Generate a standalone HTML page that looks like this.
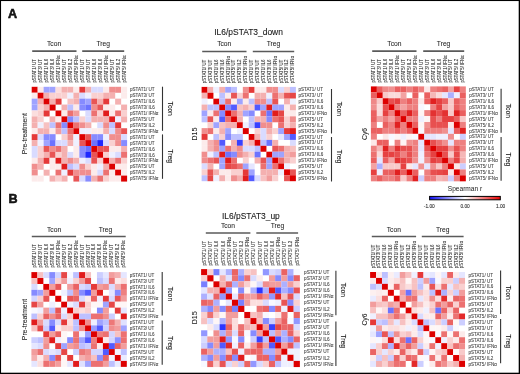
<!DOCTYPE html>
<html><head><meta charset="utf-8"><style>
html,body{margin:0;padding:0;background:#fff;}
body{width:520px;height:374px;overflow:hidden;}
svg{display:block;will-change:transform;filter:blur(0.30px);}
</style></head><body>
<svg width="520" height="374" viewBox="0 0 520 374" font-family='"Liberation Sans", sans-serif' fill="#1a1a1a">
<rect x="0" y="0" width="520" height="374" fill="#fff"/>
<text x="8" y="17.5" font-size="12.6" font-weight="bold" stroke="#000" stroke-width="0.5">A</text>
<text x="8.6" y="202.8" font-size="12.6" font-weight="bold" stroke="#000" stroke-width="0.5">B</text>
<text x="248.6" y="35.3" font-size="8.45" text-anchor="middle" stroke="#1a1a1a" stroke-width="0.1">IL6/pSTAT3_down</text>
<text x="250.9" y="218.5" font-size="8.45" text-anchor="middle" stroke="#1a1a1a" stroke-width="0.1">IL6/pSTAT3_up</text>
<rect x="31.70" y="86.80" width="6.01" height="5.97" fill="#dd0000"/>
<rect x="37.66" y="86.80" width="6.01" height="5.97" fill="#fcebeb"/>
<rect x="43.62" y="86.80" width="6.01" height="5.97" fill="#9fa3ff"/>
<rect x="49.58" y="86.80" width="6.01" height="5.97" fill="#9fa3ff"/>
<rect x="55.54" y="86.80" width="6.01" height="5.97" fill="#fbdede"/>
<rect x="61.50" y="86.80" width="6.01" height="5.97" fill="#f4b0b0"/>
<rect x="67.46" y="86.80" width="6.01" height="5.97" fill="#f4b0b0"/>
<rect x="73.42" y="86.80" width="6.01" height="5.97" fill="#fcebeb"/>
<rect x="79.38" y="86.80" width="6.01" height="5.97" fill="#e53939"/>
<rect x="85.34" y="86.80" width="6.01" height="5.97" fill="#f4b0b0"/>
<rect x="91.30" y="86.80" width="6.01" height="5.97" fill="#d9dbff"/>
<rect x="97.26" y="86.80" width="6.01" height="5.97" fill="#d9dbff"/>
<rect x="103.22" y="86.80" width="6.01" height="5.97" fill="#fcebeb"/>
<rect x="109.18" y="86.80" width="6.01" height="5.97" fill="#f08e8e"/>
<rect x="115.14" y="86.80" width="6.01" height="5.97" fill="#f08e8e"/>
<rect x="121.10" y="86.80" width="6.01" height="5.97" fill="#fcebeb"/>
<rect x="31.70" y="92.72" width="6.01" height="5.97" fill="#fcebeb"/>
<rect x="37.66" y="92.72" width="6.01" height="5.97" fill="#dd0000"/>
<rect x="43.62" y="92.72" width="6.01" height="5.97" fill="#f4b0b0"/>
<rect x="49.58" y="92.72" width="6.01" height="5.97" fill="#f9d0d0"/>
<rect x="55.54" y="92.72" width="6.01" height="5.97" fill="#f9d0d0"/>
<rect x="61.50" y="92.72" width="6.01" height="5.97" fill="#f9d0d0"/>
<rect x="67.46" y="92.72" width="6.01" height="5.97" fill="#eff0ff"/>
<rect x="73.42" y="92.72" width="6.01" height="5.97" fill="#f4b0b0"/>
<rect x="79.38" y="92.72" width="6.01" height="5.97" fill="#d9dbff"/>
<rect x="85.34" y="92.72" width="6.01" height="5.97" fill="#eff0ff"/>
<rect x="91.30" y="92.72" width="6.01" height="5.97" fill="#f9d0d0"/>
<rect x="97.26" y="92.72" width="6.01" height="5.97" fill="#f9d0d0"/>
<rect x="103.22" y="92.72" width="6.01" height="5.97" fill="#f4b0b0"/>
<rect x="109.18" y="92.72" width="6.01" height="5.97" fill="#f4b0b0"/>
<rect x="121.10" y="92.72" width="6.01" height="5.97" fill="#fcebeb"/>
<rect x="31.70" y="98.64" width="6.01" height="5.97" fill="#9fa3ff"/>
<rect x="37.66" y="98.64" width="6.01" height="5.97" fill="#f4b0b0"/>
<rect x="43.62" y="98.64" width="6.01" height="5.97" fill="#dd0000"/>
<rect x="49.58" y="98.64" width="6.01" height="5.97" fill="#f4b0b0"/>
<rect x="55.54" y="98.64" width="6.01" height="5.97" fill="#e53939"/>
<rect x="67.46" y="98.64" width="6.01" height="5.97" fill="#f7c1c1"/>
<rect x="73.42" y="98.64" width="6.01" height="5.97" fill="#f4b0b0"/>
<rect x="79.38" y="98.64" width="6.01" height="5.97" fill="#868bff"/>
<rect x="85.34" y="98.64" width="6.01" height="5.97" fill="#9fa3ff"/>
<rect x="91.30" y="98.64" width="6.01" height="5.97" fill="#e85555"/>
<rect x="97.26" y="98.64" width="6.01" height="5.97" fill="#f4b0b0"/>
<rect x="103.22" y="98.64" width="6.01" height="5.97" fill="#e53939"/>
<rect x="115.14" y="98.64" width="6.01" height="5.97" fill="#f4b0b0"/>
<rect x="31.70" y="104.56" width="6.01" height="5.97" fill="#9fa3ff"/>
<rect x="37.66" y="104.56" width="6.01" height="5.97" fill="#f9d0d0"/>
<rect x="43.62" y="104.56" width="6.01" height="5.97" fill="#f4b0b0"/>
<rect x="49.58" y="104.56" width="6.01" height="5.97" fill="#dd0000"/>
<rect x="61.50" y="104.56" width="6.01" height="5.97" fill="#f4b0b0"/>
<rect x="67.46" y="104.56" width="6.01" height="5.97" fill="#bdc0ff"/>
<rect x="73.42" y="104.56" width="6.01" height="5.97" fill="#fcebeb"/>
<rect x="79.38" y="104.56" width="6.01" height="5.97" fill="#868bff"/>
<rect x="85.34" y="104.56" width="6.01" height="5.97" fill="#6c73ff"/>
<rect x="91.30" y="104.56" width="6.01" height="5.97" fill="#f08e8e"/>
<rect x="97.26" y="104.56" width="6.01" height="5.97" fill="#e85555"/>
<rect x="103.22" y="104.56" width="6.01" height="5.97" fill="#fcebeb"/>
<rect x="109.18" y="104.56" width="6.01" height="5.97" fill="#fcebeb"/>
<rect x="121.10" y="104.56" width="6.01" height="5.97" fill="#f4b0b0"/>
<rect x="31.70" y="110.48" width="6.01" height="5.97" fill="#fbdede"/>
<rect x="37.66" y="110.48" width="6.01" height="5.97" fill="#f9d0d0"/>
<rect x="43.62" y="110.48" width="6.01" height="5.97" fill="#e53939"/>
<rect x="55.54" y="110.48" width="6.01" height="5.97" fill="#dd0000"/>
<rect x="61.50" y="110.48" width="6.01" height="5.97" fill="#fcebeb"/>
<rect x="67.46" y="110.48" width="6.01" height="5.97" fill="#ec7171"/>
<rect x="73.42" y="110.48" width="6.01" height="5.97" fill="#f29d9d"/>
<rect x="85.34" y="110.48" width="6.01" height="5.97" fill="#d9dbff"/>
<rect x="91.30" y="110.48" width="6.01" height="5.97" fill="#ec7171"/>
<rect x="97.26" y="110.48" width="6.01" height="5.97" fill="#f9d0d0"/>
<rect x="103.22" y="110.48" width="6.01" height="5.97" fill="#e11c1c"/>
<rect x="109.18" y="110.48" width="6.01" height="5.97" fill="#fcebeb"/>
<rect x="115.14" y="110.48" width="6.01" height="5.97" fill="#ec7171"/>
<rect x="121.10" y="110.48" width="6.01" height="5.97" fill="#f9d0d0"/>
<rect x="31.70" y="116.40" width="6.01" height="5.97" fill="#f4b0b0"/>
<rect x="37.66" y="116.40" width="6.01" height="5.97" fill="#f9d0d0"/>
<rect x="49.58" y="116.40" width="6.01" height="5.97" fill="#f4b0b0"/>
<rect x="55.54" y="116.40" width="6.01" height="5.97" fill="#fcebeb"/>
<rect x="61.50" y="116.40" width="6.01" height="5.97" fill="#dd0000"/>
<rect x="67.46" y="116.40" width="6.01" height="5.97" fill="#868bff"/>
<rect x="73.42" y="116.40" width="6.01" height="5.97" fill="#bdc0ff"/>
<rect x="79.38" y="116.40" width="6.01" height="5.97" fill="#f9d0d0"/>
<rect x="85.34" y="116.40" width="6.01" height="5.97" fill="#d9dbff"/>
<rect x="91.30" y="116.40" width="6.01" height="5.97" fill="#f4b0b0"/>
<rect x="97.26" y="116.40" width="6.01" height="5.97" fill="#f4b0b0"/>
<rect x="103.22" y="116.40" width="6.01" height="5.97" fill="#f4b0b0"/>
<rect x="109.18" y="116.40" width="6.01" height="5.97" fill="#e11c1c"/>
<rect x="115.14" y="116.40" width="6.01" height="5.97" fill="#eff0ff"/>
<rect x="121.10" y="116.40" width="6.01" height="5.97" fill="#f4b0b0"/>
<rect x="31.70" y="122.32" width="6.01" height="5.97" fill="#f4b0b0"/>
<rect x="37.66" y="122.32" width="6.01" height="5.97" fill="#eff0ff"/>
<rect x="43.62" y="122.32" width="6.01" height="5.97" fill="#f7c1c1"/>
<rect x="49.58" y="122.32" width="6.01" height="5.97" fill="#bdc0ff"/>
<rect x="55.54" y="122.32" width="6.01" height="5.97" fill="#ec7171"/>
<rect x="61.50" y="122.32" width="6.01" height="5.97" fill="#868bff"/>
<rect x="67.46" y="122.32" width="6.01" height="5.97" fill="#dd0000"/>
<rect x="73.42" y="122.32" width="6.01" height="5.97" fill="#ec7171"/>
<rect x="79.38" y="122.32" width="6.01" height="5.97" fill="#f08e8e"/>
<rect x="85.34" y="122.32" width="6.01" height="5.97" fill="#f4b0b0"/>
<rect x="97.26" y="122.32" width="6.01" height="5.97" fill="#d9dbff"/>
<rect x="103.22" y="122.32" width="6.01" height="5.97" fill="#f08e8e"/>
<rect x="109.18" y="122.32" width="6.01" height="5.97" fill="#bdc0ff"/>
<rect x="115.14" y="122.32" width="6.01" height="5.97" fill="#e53939"/>
<rect x="31.70" y="128.24" width="6.01" height="5.97" fill="#fcebeb"/>
<rect x="37.66" y="128.24" width="6.01" height="5.97" fill="#f4b0b0"/>
<rect x="43.62" y="128.24" width="6.01" height="5.97" fill="#f4b0b0"/>
<rect x="49.58" y="128.24" width="6.01" height="5.97" fill="#fcebeb"/>
<rect x="55.54" y="128.24" width="6.01" height="5.97" fill="#f29d9d"/>
<rect x="61.50" y="128.24" width="6.01" height="5.97" fill="#bdc0ff"/>
<rect x="67.46" y="128.24" width="6.01" height="5.97" fill="#ec7171"/>
<rect x="73.42" y="128.24" width="6.01" height="5.97" fill="#dd0000"/>
<rect x="79.38" y="128.24" width="6.01" height="5.97" fill="#eff0ff"/>
<rect x="85.34" y="128.24" width="6.01" height="5.97" fill="#eff0ff"/>
<rect x="91.30" y="128.24" width="6.01" height="5.97" fill="#fcebeb"/>
<rect x="97.26" y="128.24" width="6.01" height="5.97" fill="#fcebeb"/>
<rect x="103.22" y="128.24" width="6.01" height="5.97" fill="#f4b0b0"/>
<rect x="109.18" y="128.24" width="6.01" height="5.97" fill="#d9dbff"/>
<rect x="115.14" y="128.24" width="6.01" height="5.97" fill="#f08e8e"/>
<rect x="121.10" y="128.24" width="6.01" height="5.97" fill="#e85555"/>
<rect x="31.70" y="134.16" width="6.01" height="5.97" fill="#e53939"/>
<rect x="37.66" y="134.16" width="6.01" height="5.97" fill="#d9dbff"/>
<rect x="43.62" y="134.16" width="6.01" height="5.97" fill="#868bff"/>
<rect x="49.58" y="134.16" width="6.01" height="5.97" fill="#868bff"/>
<rect x="61.50" y="134.16" width="6.01" height="5.97" fill="#f9d0d0"/>
<rect x="67.46" y="134.16" width="6.01" height="5.97" fill="#f08e8e"/>
<rect x="73.42" y="134.16" width="6.01" height="5.97" fill="#eff0ff"/>
<rect x="79.38" y="134.16" width="6.01" height="5.97" fill="#dd0000"/>
<rect x="85.34" y="134.16" width="6.01" height="5.97" fill="#e85555"/>
<rect x="91.30" y="134.16" width="6.01" height="5.97" fill="#868bff"/>
<rect x="97.26" y="134.16" width="6.01" height="5.97" fill="#868bff"/>
<rect x="103.22" y="134.16" width="6.01" height="5.97" fill="#eff0ff"/>
<rect x="109.18" y="134.16" width="6.01" height="5.97" fill="#f08e8e"/>
<rect x="115.14" y="134.16" width="6.01" height="5.97" fill="#f08e8e"/>
<rect x="121.10" y="134.16" width="6.01" height="5.97" fill="#d9dbff"/>
<rect x="31.70" y="140.08" width="6.01" height="5.97" fill="#f4b0b0"/>
<rect x="37.66" y="140.08" width="6.01" height="5.97" fill="#eff0ff"/>
<rect x="43.62" y="140.08" width="6.01" height="5.97" fill="#9fa3ff"/>
<rect x="49.58" y="140.08" width="6.01" height="5.97" fill="#6c73ff"/>
<rect x="55.54" y="140.08" width="6.01" height="5.97" fill="#d9dbff"/>
<rect x="61.50" y="140.08" width="6.01" height="5.97" fill="#d9dbff"/>
<rect x="67.46" y="140.08" width="6.01" height="5.97" fill="#f4b0b0"/>
<rect x="73.42" y="140.08" width="6.01" height="5.97" fill="#eff0ff"/>
<rect x="79.38" y="140.08" width="6.01" height="5.97" fill="#e85555"/>
<rect x="85.34" y="140.08" width="6.01" height="5.97" fill="#dd0000"/>
<rect x="91.30" y="140.08" width="6.01" height="5.97" fill="#6c73ff"/>
<rect x="97.26" y="140.08" width="6.01" height="5.97" fill="#1e28ff"/>
<rect x="103.22" y="140.08" width="6.01" height="5.97" fill="#d9dbff"/>
<rect x="109.18" y="140.08" width="6.01" height="5.97" fill="#f9d0d0"/>
<rect x="115.14" y="140.08" width="6.01" height="5.97" fill="#f08e8e"/>
<rect x="121.10" y="140.08" width="6.01" height="5.97" fill="#868bff"/>
<rect x="31.70" y="146.00" width="6.01" height="5.97" fill="#d9dbff"/>
<rect x="37.66" y="146.00" width="6.01" height="5.97" fill="#f9d0d0"/>
<rect x="43.62" y="146.00" width="6.01" height="5.97" fill="#e85555"/>
<rect x="49.58" y="146.00" width="6.01" height="5.97" fill="#f08e8e"/>
<rect x="55.54" y="146.00" width="6.01" height="5.97" fill="#ec7171"/>
<rect x="61.50" y="146.00" width="6.01" height="5.97" fill="#f4b0b0"/>
<rect x="73.42" y="146.00" width="6.01" height="5.97" fill="#fcebeb"/>
<rect x="79.38" y="146.00" width="6.01" height="5.97" fill="#868bff"/>
<rect x="85.34" y="146.00" width="6.01" height="5.97" fill="#6c73ff"/>
<rect x="91.30" y="146.00" width="6.01" height="5.97" fill="#dd0000"/>
<rect x="97.26" y="146.00" width="6.01" height="5.97" fill="#e85555"/>
<rect x="103.22" y="146.00" width="6.01" height="5.97" fill="#e85555"/>
<rect x="109.18" y="146.00" width="6.01" height="5.97" fill="#fcebeb"/>
<rect x="115.14" y="146.00" width="6.01" height="5.97" fill="#fcebeb"/>
<rect x="121.10" y="146.00" width="6.01" height="5.97" fill="#f4b0b0"/>
<rect x="31.70" y="151.92" width="6.01" height="5.97" fill="#d9dbff"/>
<rect x="37.66" y="151.92" width="6.01" height="5.97" fill="#f9d0d0"/>
<rect x="43.62" y="151.92" width="6.01" height="5.97" fill="#f4b0b0"/>
<rect x="49.58" y="151.92" width="6.01" height="5.97" fill="#e85555"/>
<rect x="55.54" y="151.92" width="6.01" height="5.97" fill="#f9d0d0"/>
<rect x="61.50" y="151.92" width="6.01" height="5.97" fill="#f4b0b0"/>
<rect x="67.46" y="151.92" width="6.01" height="5.97" fill="#d9dbff"/>
<rect x="73.42" y="151.92" width="6.01" height="5.97" fill="#fcebeb"/>
<rect x="79.38" y="151.92" width="6.01" height="5.97" fill="#868bff"/>
<rect x="85.34" y="151.92" width="6.01" height="5.97" fill="#1e28ff"/>
<rect x="91.30" y="151.92" width="6.01" height="5.97" fill="#e85555"/>
<rect x="97.26" y="151.92" width="6.01" height="5.97" fill="#dd0000"/>
<rect x="103.22" y="151.92" width="6.01" height="5.97" fill="#f9d0d0"/>
<rect x="109.18" y="151.92" width="6.01" height="5.97" fill="#eff0ff"/>
<rect x="115.14" y="151.92" width="6.01" height="5.97" fill="#d9dbff"/>
<rect x="121.10" y="151.92" width="6.01" height="5.97" fill="#ec7171"/>
<rect x="31.70" y="157.84" width="6.01" height="5.97" fill="#fcebeb"/>
<rect x="37.66" y="157.84" width="6.01" height="5.97" fill="#f4b0b0"/>
<rect x="43.62" y="157.84" width="6.01" height="5.97" fill="#e53939"/>
<rect x="49.58" y="157.84" width="6.01" height="5.97" fill="#fcebeb"/>
<rect x="55.54" y="157.84" width="6.01" height="5.97" fill="#e11c1c"/>
<rect x="61.50" y="157.84" width="6.01" height="5.97" fill="#f4b0b0"/>
<rect x="67.46" y="157.84" width="6.01" height="5.97" fill="#f08e8e"/>
<rect x="73.42" y="157.84" width="6.01" height="5.97" fill="#f4b0b0"/>
<rect x="79.38" y="157.84" width="6.01" height="5.97" fill="#eff0ff"/>
<rect x="85.34" y="157.84" width="6.01" height="5.97" fill="#d9dbff"/>
<rect x="91.30" y="157.84" width="6.01" height="5.97" fill="#e85555"/>
<rect x="97.26" y="157.84" width="6.01" height="5.97" fill="#f9d0d0"/>
<rect x="103.22" y="157.84" width="6.01" height="5.97" fill="#dd0000"/>
<rect x="109.18" y="157.84" width="6.01" height="5.97" fill="#f4b0b0"/>
<rect x="115.14" y="157.84" width="6.01" height="5.97" fill="#ec7171"/>
<rect x="121.10" y="157.84" width="6.01" height="5.97" fill="#f9d0d0"/>
<rect x="31.70" y="163.76" width="6.01" height="5.97" fill="#f08e8e"/>
<rect x="37.66" y="163.76" width="6.01" height="5.97" fill="#f4b0b0"/>
<rect x="49.58" y="163.76" width="6.01" height="5.97" fill="#fcebeb"/>
<rect x="55.54" y="163.76" width="6.01" height="5.97" fill="#fcebeb"/>
<rect x="61.50" y="163.76" width="6.01" height="5.97" fill="#e11c1c"/>
<rect x="67.46" y="163.76" width="6.01" height="5.97" fill="#bdc0ff"/>
<rect x="73.42" y="163.76" width="6.01" height="5.97" fill="#d9dbff"/>
<rect x="79.38" y="163.76" width="6.01" height="5.97" fill="#f08e8e"/>
<rect x="85.34" y="163.76" width="6.01" height="5.97" fill="#f9d0d0"/>
<rect x="91.30" y="163.76" width="6.01" height="5.97" fill="#fcebeb"/>
<rect x="97.26" y="163.76" width="6.01" height="5.97" fill="#eff0ff"/>
<rect x="103.22" y="163.76" width="6.01" height="5.97" fill="#f4b0b0"/>
<rect x="109.18" y="163.76" width="6.01" height="5.97" fill="#dd0000"/>
<rect x="115.14" y="163.76" width="6.01" height="5.97" fill="#fcebeb"/>
<rect x="121.10" y="163.76" width="6.01" height="5.97" fill="#fcebeb"/>
<rect x="31.70" y="169.68" width="6.01" height="5.97" fill="#f08e8e"/>
<rect x="43.62" y="169.68" width="6.01" height="5.97" fill="#f4b0b0"/>
<rect x="55.54" y="169.68" width="6.01" height="5.97" fill="#ec7171"/>
<rect x="61.50" y="169.68" width="6.01" height="5.97" fill="#eff0ff"/>
<rect x="67.46" y="169.68" width="6.01" height="5.97" fill="#e53939"/>
<rect x="73.42" y="169.68" width="6.01" height="5.97" fill="#f08e8e"/>
<rect x="79.38" y="169.68" width="6.01" height="5.97" fill="#f08e8e"/>
<rect x="85.34" y="169.68" width="6.01" height="5.97" fill="#f08e8e"/>
<rect x="91.30" y="169.68" width="6.01" height="5.97" fill="#fcebeb"/>
<rect x="97.26" y="169.68" width="6.01" height="5.97" fill="#d9dbff"/>
<rect x="103.22" y="169.68" width="6.01" height="5.97" fill="#ec7171"/>
<rect x="109.18" y="169.68" width="6.01" height="5.97" fill="#fcebeb"/>
<rect x="115.14" y="169.68" width="6.01" height="5.97" fill="#dd0000"/>
<rect x="121.10" y="169.68" width="6.01" height="5.97" fill="#fcebeb"/>
<rect x="31.70" y="175.60" width="6.01" height="5.97" fill="#fcebeb"/>
<rect x="37.66" y="175.60" width="6.01" height="5.97" fill="#fcebeb"/>
<rect x="49.58" y="175.60" width="6.01" height="5.97" fill="#f4b0b0"/>
<rect x="55.54" y="175.60" width="6.01" height="5.97" fill="#f9d0d0"/>
<rect x="61.50" y="175.60" width="6.01" height="5.97" fill="#f4b0b0"/>
<rect x="73.42" y="175.60" width="6.01" height="5.97" fill="#e85555"/>
<rect x="79.38" y="175.60" width="6.01" height="5.97" fill="#d9dbff"/>
<rect x="85.34" y="175.60" width="6.01" height="5.97" fill="#868bff"/>
<rect x="91.30" y="175.60" width="6.01" height="5.97" fill="#f4b0b0"/>
<rect x="97.26" y="175.60" width="6.01" height="5.97" fill="#ec7171"/>
<rect x="103.22" y="175.60" width="6.01" height="5.97" fill="#f9d0d0"/>
<rect x="109.18" y="175.60" width="6.01" height="5.97" fill="#fcebeb"/>
<rect x="115.14" y="175.60" width="6.01" height="5.97" fill="#fcebeb"/>
<rect x="121.10" y="175.60" width="6.01" height="5.97" fill="#dd0000"/>
<text x="54.1" y="45.8" font-size="6.70" text-anchor="middle" stroke="#1a1a1a" stroke-width="0.05">Tcon</text>
<text x="103.2" y="45.8" font-size="6.70" text-anchor="middle" stroke="#1a1a1a" stroke-width="0.05">Treg</text>
<line x1="32.2" x2="76.5" y1="51.1" y2="51.1" stroke="#5a5a5a" stroke-width="1.7"/>
<line x1="82.2" x2="124.2" y1="51.1" y2="51.1" stroke="#5a5a5a" stroke-width="1.7"/>
<text transform="translate(36.16 82.60) rotate(-90) scale(1 1.2)" font-size="4.35" fill="#3a3a3a" stroke="#3a3a3a" stroke-width="0.08">pSTAT1/ UT</text>
<text transform="translate(42.12 82.60) rotate(-90) scale(1 1.2)" font-size="4.35" fill="#3a3a3a" stroke="#3a3a3a" stroke-width="0.08">pSTAT3/ UT</text>
<text transform="translate(48.08 82.60) rotate(-90) scale(1 1.2)" font-size="4.35" fill="#3a3a3a" stroke="#3a3a3a" stroke-width="0.08">pSTAT1/ IL6</text>
<text transform="translate(54.04 82.60) rotate(-90) scale(1 1.2)" font-size="4.35" fill="#3a3a3a" stroke="#3a3a3a" stroke-width="0.08">pSTAT3/ IL6</text>
<text transform="translate(60.00 82.60) rotate(-90) scale(1 1.2)" font-size="4.35" fill="#3a3a3a" stroke="#3a3a3a" stroke-width="0.08">pSTAT1/ IFNα</text>
<text transform="translate(65.96 82.60) rotate(-90) scale(1 1.2)" font-size="4.35" fill="#3a3a3a" stroke="#3a3a3a" stroke-width="0.08">pSTAT5/ UT</text>
<text transform="translate(71.92 82.60) rotate(-90) scale(1 1.2)" font-size="4.35" fill="#3a3a3a" stroke="#3a3a3a" stroke-width="0.08">pSTAT5/ IL2</text>
<text transform="translate(77.88 82.60) rotate(-90) scale(1 1.2)" font-size="4.35" fill="#3a3a3a" stroke="#3a3a3a" stroke-width="0.08">pSTAT5/ IFNα</text>
<text transform="translate(83.84 82.60) rotate(-90) scale(1 1.2)" font-size="4.35" fill="#3a3a3a" stroke="#3a3a3a" stroke-width="0.08">pSTAT1/ UT</text>
<text transform="translate(89.80 82.60) rotate(-90) scale(1 1.2)" font-size="4.35" fill="#3a3a3a" stroke="#3a3a3a" stroke-width="0.08">pSTAT3/ UT</text>
<text transform="translate(95.76 82.60) rotate(-90) scale(1 1.2)" font-size="4.35" fill="#3a3a3a" stroke="#3a3a3a" stroke-width="0.08">pSTAT1/ IL6</text>
<text transform="translate(101.72 82.60) rotate(-90) scale(1 1.2)" font-size="4.35" fill="#3a3a3a" stroke="#3a3a3a" stroke-width="0.08">pSTAT3/ IL6</text>
<text transform="translate(107.68 82.60) rotate(-90) scale(1 1.2)" font-size="4.35" fill="#3a3a3a" stroke="#3a3a3a" stroke-width="0.08">pSTAT1/ IFNα</text>
<text transform="translate(113.64 82.60) rotate(-90) scale(1 1.2)" font-size="4.35" fill="#3a3a3a" stroke="#3a3a3a" stroke-width="0.08">pSTAT5/ UT</text>
<text transform="translate(119.60 82.60) rotate(-90) scale(1 1.2)" font-size="4.35" fill="#3a3a3a" stroke="#3a3a3a" stroke-width="0.08">pSTAT5/ IL2</text>
<text transform="translate(125.56 82.60) rotate(-90) scale(1 1.2)" font-size="4.35" fill="#3a3a3a" stroke="#3a3a3a" stroke-width="0.08">pSTAT5/ IFNα</text>
<text x="130.00" y="91.40" font-size="4.55" fill="#444" stroke="#444" stroke-width="0.08">pSTAT1/ UT</text>
<text x="130.00" y="97.32" font-size="4.55" fill="#444" stroke="#444" stroke-width="0.08">pSTAT3/ UT</text>
<text x="130.00" y="103.24" font-size="4.55" fill="#444" stroke="#444" stroke-width="0.08">pSTAT1/ IL6</text>
<text x="130.00" y="109.16" font-size="4.55" fill="#444" stroke="#444" stroke-width="0.08">pSTAT3/ IL6</text>
<text x="130.00" y="115.08" font-size="4.55" fill="#444" stroke="#444" stroke-width="0.08">pSTAT1/ IFNα</text>
<text x="130.00" y="121.00" font-size="4.55" fill="#444" stroke="#444" stroke-width="0.08">pSTAT5/ UT</text>
<text x="130.00" y="126.92" font-size="4.55" fill="#444" stroke="#444" stroke-width="0.08">pSTAT5/ IL2</text>
<text x="130.00" y="132.84" font-size="4.55" fill="#444" stroke="#444" stroke-width="0.08">pSTAT5/ IFNα</text>
<text x="130.00" y="138.76" font-size="4.55" fill="#444" stroke="#444" stroke-width="0.08">pSTAT1/ UT</text>
<text x="130.00" y="144.68" font-size="4.55" fill="#444" stroke="#444" stroke-width="0.08">pSTAT3/ UT</text>
<text x="130.00" y="150.60" font-size="4.55" fill="#444" stroke="#444" stroke-width="0.08">pSTAT1/ IL6</text>
<text x="130.00" y="156.52" font-size="4.55" fill="#444" stroke="#444" stroke-width="0.08">pSTAT3/ IL6</text>
<text x="130.00" y="162.44" font-size="4.55" fill="#444" stroke="#444" stroke-width="0.08">pSTAT1/ IFNα</text>
<text x="130.00" y="168.36" font-size="4.55" fill="#444" stroke="#444" stroke-width="0.08">pSTAT5/ UT</text>
<text x="130.00" y="174.28" font-size="4.55" fill="#444" stroke="#444" stroke-width="0.08">pSTAT5/ IL2</text>
<text x="130.00" y="180.20" font-size="4.55" fill="#444" stroke="#444" stroke-width="0.08">pSTAT5/ IFNα</text>
<line x1="162.5" x2="162.5" y1="86.7" y2="130.8" stroke="#333" stroke-width="1.1"/>
<line x1="162.5" x2="162.5" y1="134.4" y2="178.8" stroke="#333" stroke-width="1.1"/>
<text transform="translate(167.90 108.70) rotate(90)" font-size="6.80" text-anchor="middle" stroke="#1a1a1a" stroke-width="0.1">Tcon</text>
<text transform="translate(167.90 156.20) rotate(90)" font-size="6.80" text-anchor="middle" stroke="#1a1a1a" stroke-width="0.1">Treg</text>
<text transform="translate(26.80 133.70) rotate(-90)" font-size="6.75" text-anchor="middle" stroke="#1a1a1a" stroke-width="0.05">Pre-treatment</text>
<rect x="201.60" y="86.90" width="5.94" height="5.94" fill="#dd0000"/>
<rect x="207.49" y="86.90" width="5.94" height="5.94" fill="#f4b0b0"/>
<rect x="213.38" y="86.90" width="5.94" height="5.94" fill="#eff0ff"/>
<rect x="219.27" y="86.90" width="5.94" height="5.94" fill="#f4b0b0"/>
<rect x="225.16" y="86.90" width="5.94" height="5.94" fill="#9fa3ff"/>
<rect x="231.05" y="86.90" width="5.94" height="5.94" fill="#bdc0ff"/>
<rect x="242.83" y="86.90" width="5.94" height="5.94" fill="#f08e8e"/>
<rect x="248.72" y="86.90" width="5.94" height="5.94" fill="#e53939"/>
<rect x="254.61" y="86.90" width="5.94" height="5.94" fill="#fcebeb"/>
<rect x="260.50" y="86.90" width="5.94" height="5.94" fill="#fcebeb"/>
<rect x="266.39" y="86.90" width="5.94" height="5.94" fill="#f08e8e"/>
<rect x="272.28" y="86.90" width="5.94" height="5.94" fill="#f08e8e"/>
<rect x="278.17" y="86.90" width="5.94" height="5.94" fill="#d9dbff"/>
<rect x="284.06" y="86.90" width="5.94" height="5.94" fill="#f9d0d0"/>
<rect x="289.95" y="86.90" width="5.94" height="5.94" fill="#bdc0ff"/>
<rect x="201.60" y="92.79" width="5.94" height="5.94" fill="#f4b0b0"/>
<rect x="207.49" y="92.79" width="5.94" height="5.94" fill="#dd0000"/>
<rect x="219.27" y="92.79" width="5.94" height="5.94" fill="#bdc0ff"/>
<rect x="225.16" y="92.79" width="5.94" height="5.94" fill="#fcebeb"/>
<rect x="231.05" y="92.79" width="5.94" height="5.94" fill="#e85555"/>
<rect x="236.94" y="92.79" width="5.94" height="5.94" fill="#f9d0d0"/>
<rect x="242.83" y="92.79" width="5.94" height="5.94" fill="#ec7171"/>
<rect x="254.61" y="92.79" width="5.94" height="5.94" fill="#f4b0b0"/>
<rect x="260.50" y="92.79" width="5.94" height="5.94" fill="#f4b0b0"/>
<rect x="266.39" y="92.79" width="5.94" height="5.94" fill="#eff0ff"/>
<rect x="272.28" y="92.79" width="5.94" height="5.94" fill="#ec7171"/>
<rect x="278.17" y="92.79" width="5.94" height="5.94" fill="#f4b0b0"/>
<rect x="284.06" y="92.79" width="5.94" height="5.94" fill="#e85555"/>
<rect x="289.95" y="92.79" width="5.94" height="5.94" fill="#e64747"/>
<rect x="201.60" y="98.68" width="5.94" height="5.94" fill="#eff0ff"/>
<rect x="213.38" y="98.68" width="5.94" height="5.94" fill="#dd0000"/>
<rect x="219.27" y="98.68" width="5.94" height="5.94" fill="#bdc0ff"/>
<rect x="225.16" y="98.68" width="5.94" height="5.94" fill="#ec7171"/>
<rect x="231.05" y="98.68" width="5.94" height="5.94" fill="#fcebeb"/>
<rect x="236.94" y="98.68" width="5.94" height="5.94" fill="#9fa3ff"/>
<rect x="242.83" y="98.68" width="5.94" height="5.94" fill="#fcebeb"/>
<rect x="248.72" y="98.68" width="5.94" height="5.94" fill="#bdc0ff"/>
<rect x="254.61" y="98.68" width="5.94" height="5.94" fill="#f08e8e"/>
<rect x="260.50" y="98.68" width="5.94" height="5.94" fill="#f08e8e"/>
<rect x="266.39" y="98.68" width="5.94" height="5.94" fill="#bdc0ff"/>
<rect x="272.28" y="98.68" width="5.94" height="5.94" fill="#e85555"/>
<rect x="284.06" y="98.68" width="5.94" height="5.94" fill="#f4b0b0"/>
<rect x="289.95" y="98.68" width="5.94" height="5.94" fill="#eff0ff"/>
<rect x="201.60" y="104.57" width="5.94" height="5.94" fill="#f4b0b0"/>
<rect x="207.49" y="104.57" width="5.94" height="5.94" fill="#bdc0ff"/>
<rect x="213.38" y="104.57" width="5.94" height="5.94" fill="#bdc0ff"/>
<rect x="219.27" y="104.57" width="5.94" height="5.94" fill="#dd0000"/>
<rect x="225.16" y="104.57" width="5.94" height="5.94" fill="#868bff"/>
<rect x="231.05" y="104.57" width="5.94" height="5.94" fill="#525aff"/>
<rect x="236.94" y="104.57" width="5.94" height="5.94" fill="#f7c1c1"/>
<rect x="242.83" y="104.57" width="5.94" height="5.94" fill="#f4b0b0"/>
<rect x="248.72" y="104.57" width="5.94" height="5.94" fill="#f9d0d0"/>
<rect x="254.61" y="104.57" width="5.94" height="5.94" fill="#525aff"/>
<rect x="260.50" y="104.57" width="5.94" height="5.94" fill="#9fa3ff"/>
<rect x="266.39" y="104.57" width="5.94" height="5.94" fill="#e11c1c"/>
<rect x="272.28" y="104.57" width="5.94" height="5.94" fill="#9fa3ff"/>
<rect x="278.17" y="104.57" width="5.94" height="5.94" fill="#9fa3ff"/>
<rect x="284.06" y="104.57" width="5.94" height="5.94" fill="#fcebeb"/>
<rect x="289.95" y="104.57" width="5.94" height="5.94" fill="#f4b0b0"/>
<rect x="201.60" y="110.46" width="5.94" height="5.94" fill="#9fa3ff"/>
<rect x="207.49" y="110.46" width="5.94" height="5.94" fill="#fcebeb"/>
<rect x="213.38" y="110.46" width="5.94" height="5.94" fill="#ec7171"/>
<rect x="219.27" y="110.46" width="5.94" height="5.94" fill="#868bff"/>
<rect x="225.16" y="110.46" width="5.94" height="5.94" fill="#dd0000"/>
<rect x="231.05" y="110.46" width="5.94" height="5.94" fill="#ec7171"/>
<rect x="236.94" y="110.46" width="5.94" height="5.94" fill="#f4b0b0"/>
<rect x="242.83" y="110.46" width="5.94" height="5.94" fill="#9fa3ff"/>
<rect x="248.72" y="110.46" width="5.94" height="5.94" fill="#868bff"/>
<rect x="260.50" y="110.46" width="5.94" height="5.94" fill="#ec7171"/>
<rect x="266.39" y="110.46" width="5.94" height="5.94" fill="#6c73ff"/>
<rect x="272.28" y="110.46" width="5.94" height="5.94" fill="#e11c1c"/>
<rect x="278.17" y="110.46" width="5.94" height="5.94" fill="#e64747"/>
<rect x="284.06" y="110.46" width="5.94" height="5.94" fill="#fcebeb"/>
<rect x="289.95" y="110.46" width="5.94" height="5.94" fill="#fcebeb"/>
<rect x="201.60" y="116.35" width="5.94" height="5.94" fill="#bdc0ff"/>
<rect x="207.49" y="116.35" width="5.94" height="5.94" fill="#e85555"/>
<rect x="213.38" y="116.35" width="5.94" height="5.94" fill="#fcebeb"/>
<rect x="219.27" y="116.35" width="5.94" height="5.94" fill="#525aff"/>
<rect x="225.16" y="116.35" width="5.94" height="5.94" fill="#ec7171"/>
<rect x="231.05" y="116.35" width="5.94" height="5.94" fill="#dd0000"/>
<rect x="236.94" y="116.35" width="5.94" height="5.94" fill="#f4b0b0"/>
<rect x="248.72" y="116.35" width="5.94" height="5.94" fill="#bdc0ff"/>
<rect x="254.61" y="116.35" width="5.94" height="5.94" fill="#f4b0b0"/>
<rect x="260.50" y="116.35" width="5.94" height="5.94" fill="#f4b0b0"/>
<rect x="266.39" y="116.35" width="5.94" height="5.94" fill="#868bff"/>
<rect x="272.28" y="116.35" width="5.94" height="5.94" fill="#ec7171"/>
<rect x="278.17" y="116.35" width="5.94" height="5.94" fill="#e85555"/>
<rect x="284.06" y="116.35" width="5.94" height="5.94" fill="#f9d0d0"/>
<rect x="289.95" y="116.35" width="5.94" height="5.94" fill="#f08e8e"/>
<rect x="207.49" y="122.24" width="5.94" height="5.94" fill="#f9d0d0"/>
<rect x="213.38" y="122.24" width="5.94" height="5.94" fill="#9fa3ff"/>
<rect x="219.27" y="122.24" width="5.94" height="5.94" fill="#f7c1c1"/>
<rect x="225.16" y="122.24" width="5.94" height="5.94" fill="#f4b0b0"/>
<rect x="231.05" y="122.24" width="5.94" height="5.94" fill="#f4b0b0"/>
<rect x="236.94" y="122.24" width="5.94" height="5.94" fill="#dd0000"/>
<rect x="242.83" y="122.24" width="5.94" height="5.94" fill="#eff0ff"/>
<rect x="248.72" y="122.24" width="5.94" height="5.94" fill="#bdc0ff"/>
<rect x="254.61" y="122.24" width="5.94" height="5.94" fill="#3841ff"/>
<rect x="260.50" y="122.24" width="5.94" height="5.94" fill="#f08e8e"/>
<rect x="266.39" y="122.24" width="5.94" height="5.94" fill="#f08e8e"/>
<rect x="278.17" y="122.24" width="5.94" height="5.94" fill="#ec7171"/>
<rect x="284.06" y="122.24" width="5.94" height="5.94" fill="#f9d0d0"/>
<rect x="289.95" y="122.24" width="5.94" height="5.94" fill="#f4b0b0"/>
<rect x="201.60" y="128.13" width="5.94" height="5.94" fill="#f08e8e"/>
<rect x="207.49" y="128.13" width="5.94" height="5.94" fill="#ec7171"/>
<rect x="213.38" y="128.13" width="5.94" height="5.94" fill="#fcebeb"/>
<rect x="219.27" y="128.13" width="5.94" height="5.94" fill="#f4b0b0"/>
<rect x="225.16" y="128.13" width="5.94" height="5.94" fill="#9fa3ff"/>
<rect x="236.94" y="128.13" width="5.94" height="5.94" fill="#eff0ff"/>
<rect x="242.83" y="128.13" width="5.94" height="5.94" fill="#dd0000"/>
<rect x="254.61" y="128.13" width="5.94" height="5.94" fill="#f9d0d0"/>
<rect x="260.50" y="128.13" width="5.94" height="5.94" fill="#d9dbff"/>
<rect x="266.39" y="128.13" width="5.94" height="5.94" fill="#f4b0b0"/>
<rect x="272.28" y="128.13" width="5.94" height="5.94" fill="#f9d0d0"/>
<rect x="278.17" y="128.13" width="5.94" height="5.94" fill="#9fa3ff"/>
<rect x="284.06" y="128.13" width="5.94" height="5.94" fill="#e53939"/>
<rect x="289.95" y="128.13" width="5.94" height="5.94" fill="#e11c1c"/>
<rect x="201.60" y="134.02" width="5.94" height="5.94" fill="#e53939"/>
<rect x="213.38" y="134.02" width="5.94" height="5.94" fill="#bdc0ff"/>
<rect x="219.27" y="134.02" width="5.94" height="5.94" fill="#f9d0d0"/>
<rect x="225.16" y="134.02" width="5.94" height="5.94" fill="#868bff"/>
<rect x="231.05" y="134.02" width="5.94" height="5.94" fill="#bdc0ff"/>
<rect x="236.94" y="134.02" width="5.94" height="5.94" fill="#bdc0ff"/>
<rect x="248.72" y="134.02" width="5.94" height="5.94" fill="#dd0000"/>
<rect x="254.61" y="134.02" width="5.94" height="5.94" fill="#f4b0b0"/>
<rect x="260.50" y="134.02" width="5.94" height="5.94" fill="#d9dbff"/>
<rect x="266.39" y="134.02" width="5.94" height="5.94" fill="#f9d0d0"/>
<rect x="278.17" y="134.02" width="5.94" height="5.94" fill="#e5e6ff"/>
<rect x="284.06" y="134.02" width="5.94" height="5.94" fill="#9fa3ff"/>
<rect x="289.95" y="134.02" width="5.94" height="5.94" fill="#525aff"/>
<rect x="201.60" y="139.91" width="5.94" height="5.94" fill="#fcebeb"/>
<rect x="207.49" y="139.91" width="5.94" height="5.94" fill="#f4b0b0"/>
<rect x="213.38" y="139.91" width="5.94" height="5.94" fill="#f08e8e"/>
<rect x="219.27" y="139.91" width="5.94" height="5.94" fill="#525aff"/>
<rect x="231.05" y="139.91" width="5.94" height="5.94" fill="#f4b0b0"/>
<rect x="236.94" y="139.91" width="5.94" height="5.94" fill="#3841ff"/>
<rect x="242.83" y="139.91" width="5.94" height="5.94" fill="#f9d0d0"/>
<rect x="248.72" y="139.91" width="5.94" height="5.94" fill="#f4b0b0"/>
<rect x="254.61" y="139.91" width="5.94" height="5.94" fill="#dd0000"/>
<rect x="260.50" y="139.91" width="5.94" height="5.94" fill="#bdc0ff"/>
<rect x="266.39" y="139.91" width="5.94" height="5.94" fill="#6c73ff"/>
<rect x="272.28" y="139.91" width="5.94" height="5.94" fill="#f4b0b0"/>
<rect x="289.95" y="139.91" width="5.94" height="5.94" fill="#d9dbff"/>
<rect x="201.60" y="145.80" width="5.94" height="5.94" fill="#fcebeb"/>
<rect x="207.49" y="145.80" width="5.94" height="5.94" fill="#f4b0b0"/>
<rect x="213.38" y="145.80" width="5.94" height="5.94" fill="#f08e8e"/>
<rect x="219.27" y="145.80" width="5.94" height="5.94" fill="#9fa3ff"/>
<rect x="225.16" y="145.80" width="5.94" height="5.94" fill="#ec7171"/>
<rect x="231.05" y="145.80" width="5.94" height="5.94" fill="#f4b0b0"/>
<rect x="236.94" y="145.80" width="5.94" height="5.94" fill="#f08e8e"/>
<rect x="242.83" y="145.80" width="5.94" height="5.94" fill="#d9dbff"/>
<rect x="248.72" y="145.80" width="5.94" height="5.94" fill="#d9dbff"/>
<rect x="254.61" y="145.80" width="5.94" height="5.94" fill="#bdc0ff"/>
<rect x="260.50" y="145.80" width="5.94" height="5.94" fill="#dd0000"/>
<rect x="272.28" y="145.80" width="5.94" height="5.94" fill="#e85555"/>
<rect x="278.17" y="145.80" width="5.94" height="5.94" fill="#ec7171"/>
<rect x="284.06" y="145.80" width="5.94" height="5.94" fill="#f4b0b0"/>
<rect x="289.95" y="145.80" width="5.94" height="5.94" fill="#f7c1c1"/>
<rect x="201.60" y="151.69" width="5.94" height="5.94" fill="#f08e8e"/>
<rect x="207.49" y="151.69" width="5.94" height="5.94" fill="#eff0ff"/>
<rect x="213.38" y="151.69" width="5.94" height="5.94" fill="#bdc0ff"/>
<rect x="219.27" y="151.69" width="5.94" height="5.94" fill="#e11c1c"/>
<rect x="225.16" y="151.69" width="5.94" height="5.94" fill="#6c73ff"/>
<rect x="231.05" y="151.69" width="5.94" height="5.94" fill="#868bff"/>
<rect x="236.94" y="151.69" width="5.94" height="5.94" fill="#f08e8e"/>
<rect x="242.83" y="151.69" width="5.94" height="5.94" fill="#f4b0b0"/>
<rect x="248.72" y="151.69" width="5.94" height="5.94" fill="#f9d0d0"/>
<rect x="254.61" y="151.69" width="5.94" height="5.94" fill="#6c73ff"/>
<rect x="266.39" y="151.69" width="5.94" height="5.94" fill="#dd0000"/>
<rect x="272.28" y="151.69" width="5.94" height="5.94" fill="#9fa3ff"/>
<rect x="278.17" y="151.69" width="5.94" height="5.94" fill="#9fa3ff"/>
<rect x="284.06" y="151.69" width="5.94" height="5.94" fill="#f4b0b0"/>
<rect x="289.95" y="151.69" width="5.94" height="5.94" fill="#f29d9d"/>
<rect x="201.60" y="157.58" width="5.94" height="5.94" fill="#f08e8e"/>
<rect x="207.49" y="157.58" width="5.94" height="5.94" fill="#ec7171"/>
<rect x="213.38" y="157.58" width="5.94" height="5.94" fill="#e85555"/>
<rect x="219.27" y="157.58" width="5.94" height="5.94" fill="#9fa3ff"/>
<rect x="225.16" y="157.58" width="5.94" height="5.94" fill="#e11c1c"/>
<rect x="231.05" y="157.58" width="5.94" height="5.94" fill="#ec7171"/>
<rect x="242.83" y="157.58" width="5.94" height="5.94" fill="#f9d0d0"/>
<rect x="254.61" y="157.58" width="5.94" height="5.94" fill="#f4b0b0"/>
<rect x="260.50" y="157.58" width="5.94" height="5.94" fill="#e85555"/>
<rect x="266.39" y="157.58" width="5.94" height="5.94" fill="#9fa3ff"/>
<rect x="272.28" y="157.58" width="5.94" height="5.94" fill="#dd0000"/>
<rect x="278.17" y="157.58" width="5.94" height="5.94" fill="#ec7171"/>
<rect x="284.06" y="157.58" width="5.94" height="5.94" fill="#f4b0b0"/>
<rect x="289.95" y="157.58" width="5.94" height="5.94" fill="#f9d0d0"/>
<rect x="201.60" y="163.47" width="5.94" height="5.94" fill="#d9dbff"/>
<rect x="207.49" y="163.47" width="5.94" height="5.94" fill="#f4b0b0"/>
<rect x="219.27" y="163.47" width="5.94" height="5.94" fill="#9fa3ff"/>
<rect x="225.16" y="163.47" width="5.94" height="5.94" fill="#e64747"/>
<rect x="231.05" y="163.47" width="5.94" height="5.94" fill="#e85555"/>
<rect x="236.94" y="163.47" width="5.94" height="5.94" fill="#ec7171"/>
<rect x="242.83" y="163.47" width="5.94" height="5.94" fill="#9fa3ff"/>
<rect x="248.72" y="163.47" width="5.94" height="5.94" fill="#e5e6ff"/>
<rect x="260.50" y="163.47" width="5.94" height="5.94" fill="#ec7171"/>
<rect x="266.39" y="163.47" width="5.94" height="5.94" fill="#9fa3ff"/>
<rect x="272.28" y="163.47" width="5.94" height="5.94" fill="#ec7171"/>
<rect x="278.17" y="163.47" width="5.94" height="5.94" fill="#dd0000"/>
<rect x="284.06" y="163.47" width="5.94" height="5.94" fill="#eff0ff"/>
<rect x="201.60" y="169.36" width="5.94" height="5.94" fill="#f9d0d0"/>
<rect x="207.49" y="169.36" width="5.94" height="5.94" fill="#e85555"/>
<rect x="213.38" y="169.36" width="5.94" height="5.94" fill="#f4b0b0"/>
<rect x="219.27" y="169.36" width="5.94" height="5.94" fill="#fcebeb"/>
<rect x="225.16" y="169.36" width="5.94" height="5.94" fill="#fcebeb"/>
<rect x="231.05" y="169.36" width="5.94" height="5.94" fill="#f9d0d0"/>
<rect x="236.94" y="169.36" width="5.94" height="5.94" fill="#f9d0d0"/>
<rect x="242.83" y="169.36" width="5.94" height="5.94" fill="#e53939"/>
<rect x="248.72" y="169.36" width="5.94" height="5.94" fill="#9fa3ff"/>
<rect x="260.50" y="169.36" width="5.94" height="5.94" fill="#f4b0b0"/>
<rect x="266.39" y="169.36" width="5.94" height="5.94" fill="#f4b0b0"/>
<rect x="272.28" y="169.36" width="5.94" height="5.94" fill="#f4b0b0"/>
<rect x="278.17" y="169.36" width="5.94" height="5.94" fill="#eff0ff"/>
<rect x="284.06" y="169.36" width="5.94" height="5.94" fill="#dd0000"/>
<rect x="289.95" y="169.36" width="5.94" height="5.94" fill="#e85555"/>
<rect x="201.60" y="175.25" width="5.94" height="5.94" fill="#bdc0ff"/>
<rect x="207.49" y="175.25" width="5.94" height="5.94" fill="#e64747"/>
<rect x="213.38" y="175.25" width="5.94" height="5.94" fill="#eff0ff"/>
<rect x="219.27" y="175.25" width="5.94" height="5.94" fill="#f4b0b0"/>
<rect x="225.16" y="175.25" width="5.94" height="5.94" fill="#fcebeb"/>
<rect x="231.05" y="175.25" width="5.94" height="5.94" fill="#f08e8e"/>
<rect x="236.94" y="175.25" width="5.94" height="5.94" fill="#f4b0b0"/>
<rect x="242.83" y="175.25" width="5.94" height="5.94" fill="#e11c1c"/>
<rect x="248.72" y="175.25" width="5.94" height="5.94" fill="#525aff"/>
<rect x="254.61" y="175.25" width="5.94" height="5.94" fill="#d9dbff"/>
<rect x="260.50" y="175.25" width="5.94" height="5.94" fill="#f7c1c1"/>
<rect x="266.39" y="175.25" width="5.94" height="5.94" fill="#f29d9d"/>
<rect x="272.28" y="175.25" width="5.94" height="5.94" fill="#f9d0d0"/>
<rect x="284.06" y="175.25" width="5.94" height="5.94" fill="#e85555"/>
<rect x="289.95" y="175.25" width="5.94" height="5.94" fill="#dd0000"/>
<text x="224.2" y="45.9" font-size="6.70" text-anchor="middle" stroke="#1a1a1a" stroke-width="0.05">Tcon</text>
<text x="273.4" y="45.9" font-size="6.70" text-anchor="middle" stroke="#1a1a1a" stroke-width="0.05">Treg</text>
<line x1="202.2" x2="246.5" y1="51.5" y2="51.5" stroke="#5a5a5a" stroke-width="1.7"/>
<line x1="252.8" x2="294.2" y1="51.5" y2="51.5" stroke="#5a5a5a" stroke-width="1.7"/>
<text transform="translate(206.02 83.20) rotate(-90) scale(1 1.2)" font-size="4.35" fill="#3a3a3a" stroke="#3a3a3a" stroke-width="0.08">pSTAT1/ UT</text>
<text transform="translate(211.91 83.20) rotate(-90) scale(1 1.2)" font-size="4.35" fill="#3a3a3a" stroke="#3a3a3a" stroke-width="0.08">pSTAT3/ UT</text>
<text transform="translate(217.80 83.20) rotate(-90) scale(1 1.2)" font-size="4.35" fill="#3a3a3a" stroke="#3a3a3a" stroke-width="0.08">pSTAT1/ IL6</text>
<text transform="translate(223.69 83.20) rotate(-90) scale(1 1.2)" font-size="4.35" fill="#3a3a3a" stroke="#3a3a3a" stroke-width="0.08">pSTAT3/ IL6</text>
<text transform="translate(229.58 83.20) rotate(-90) scale(1 1.2)" font-size="4.35" fill="#3a3a3a" stroke="#3a3a3a" stroke-width="0.08">pSTAT1/ IFNα</text>
<text transform="translate(235.47 83.20) rotate(-90) scale(1 1.2)" font-size="4.35" fill="#3a3a3a" stroke="#3a3a3a" stroke-width="0.08">pSTAT5/ UT</text>
<text transform="translate(241.36 83.20) rotate(-90) scale(1 1.2)" font-size="4.35" fill="#3a3a3a" stroke="#3a3a3a" stroke-width="0.08">pSTAT5/ IL2</text>
<text transform="translate(247.25 83.20) rotate(-90) scale(1 1.2)" font-size="4.35" fill="#3a3a3a" stroke="#3a3a3a" stroke-width="0.08">pSTAT5/ IFNα</text>
<text transform="translate(253.14 83.20) rotate(-90) scale(1 1.2)" font-size="4.35" fill="#3a3a3a" stroke="#3a3a3a" stroke-width="0.08">pSTAT1/ UT</text>
<text transform="translate(259.03 83.20) rotate(-90) scale(1 1.2)" font-size="4.35" fill="#3a3a3a" stroke="#3a3a3a" stroke-width="0.08">pSTAT3/ UT</text>
<text transform="translate(264.92 83.20) rotate(-90) scale(1 1.2)" font-size="4.35" fill="#3a3a3a" stroke="#3a3a3a" stroke-width="0.08">pSTAT1/ IL6</text>
<text transform="translate(270.81 83.20) rotate(-90) scale(1 1.2)" font-size="4.35" fill="#3a3a3a" stroke="#3a3a3a" stroke-width="0.08">pSTAT3/ IL6</text>
<text transform="translate(276.70 83.20) rotate(-90) scale(1 1.2)" font-size="4.35" fill="#3a3a3a" stroke="#3a3a3a" stroke-width="0.08">pSTAT1/ IFNα</text>
<text transform="translate(282.59 83.20) rotate(-90) scale(1 1.2)" font-size="4.35" fill="#3a3a3a" stroke="#3a3a3a" stroke-width="0.08">pSTAT5/ UT</text>
<text transform="translate(288.48 83.20) rotate(-90) scale(1 1.2)" font-size="4.35" fill="#3a3a3a" stroke="#3a3a3a" stroke-width="0.08">pSTAT5/ IL2</text>
<text transform="translate(294.37 83.20) rotate(-90) scale(1 1.2)" font-size="4.35" fill="#3a3a3a" stroke="#3a3a3a" stroke-width="0.08">pSTAT5/ IFNα</text>
<text x="298.40" y="91.48" font-size="4.55" fill="#444" stroke="#444" stroke-width="0.08">pSTAT1/ UT</text>
<text x="298.40" y="97.37" font-size="4.55" fill="#444" stroke="#444" stroke-width="0.08">pSTAT3/ UT</text>
<text x="298.40" y="103.26" font-size="4.55" fill="#444" stroke="#444" stroke-width="0.08">pSTAT1/ IL6</text>
<text x="298.40" y="109.15" font-size="4.55" fill="#444" stroke="#444" stroke-width="0.08">pSTAT3/ IL6</text>
<text x="298.40" y="115.04" font-size="4.55" fill="#444" stroke="#444" stroke-width="0.08">pSTAT1/ IFNα</text>
<text x="298.40" y="120.93" font-size="4.55" fill="#444" stroke="#444" stroke-width="0.08">pSTAT5/ UT</text>
<text x="298.40" y="126.82" font-size="4.55" fill="#444" stroke="#444" stroke-width="0.08">pSTAT5/ IL2</text>
<text x="298.40" y="132.71" font-size="4.55" fill="#444" stroke="#444" stroke-width="0.08">pSTAT5/ IFNα</text>
<text x="298.40" y="138.60" font-size="4.55" fill="#444" stroke="#444" stroke-width="0.08">pSTAT1/ UT</text>
<text x="298.40" y="144.49" font-size="4.55" fill="#444" stroke="#444" stroke-width="0.08">pSTAT3/ UT</text>
<text x="298.40" y="150.38" font-size="4.55" fill="#444" stroke="#444" stroke-width="0.08">pSTAT1/ IL6</text>
<text x="298.40" y="156.27" font-size="4.55" fill="#444" stroke="#444" stroke-width="0.08">pSTAT3/ IL6</text>
<text x="298.40" y="162.16" font-size="4.55" fill="#444" stroke="#444" stroke-width="0.08">pSTAT1/ IFNα</text>
<text x="298.40" y="168.05" font-size="4.55" fill="#444" stroke="#444" stroke-width="0.08">pSTAT5/ UT</text>
<text x="298.40" y="173.94" font-size="4.55" fill="#444" stroke="#444" stroke-width="0.08">pSTAT5/ IL2</text>
<text x="298.40" y="179.83" font-size="4.55" fill="#444" stroke="#444" stroke-width="0.08">pSTAT5/ IFNα</text>
<line x1="331.5" x2="331.5" y1="89.0" y2="133.5" stroke="#333" stroke-width="1.1"/>
<line x1="331.5" x2="331.5" y1="137.0" y2="181.5" stroke="#333" stroke-width="1.1"/>
<text transform="translate(336.60 108.80) rotate(90)" font-size="6.80" text-anchor="middle" stroke="#1a1a1a" stroke-width="0.1">Tcon</text>
<text transform="translate(336.60 156.50) rotate(90)" font-size="6.80" text-anchor="middle" stroke="#1a1a1a" stroke-width="0.1">Treg</text>
<text transform="translate(197.00 134.00) rotate(-90)" font-size="7.10" text-anchor="middle" stroke="#1a1a1a" stroke-width="0.05">D15</text>
<rect x="370.90" y="86.40" width="5.98" height="5.98" fill="#dd0000"/>
<rect x="376.83" y="86.40" width="5.98" height="5.98" fill="#ea6060"/>
<rect x="382.76" y="86.40" width="5.98" height="5.98" fill="#ef8888"/>
<rect x="388.69" y="86.40" width="5.98" height="5.98" fill="#f09090"/>
<rect x="394.62" y="86.40" width="5.98" height="5.98" fill="#ea6060"/>
<rect x="400.55" y="86.40" width="5.98" height="5.98" fill="#ea6060"/>
<rect x="406.48" y="86.40" width="5.98" height="5.98" fill="#ee8080"/>
<rect x="412.41" y="86.40" width="5.98" height="5.98" fill="#ea6060"/>
<rect x="418.34" y="86.40" width="5.98" height="5.98" fill="#ee8080"/>
<rect x="424.27" y="86.40" width="5.98" height="5.98" fill="#fce8e8"/>
<rect x="430.20" y="86.40" width="5.98" height="5.98" fill="#ee8080"/>
<rect x="436.13" y="86.40" width="5.98" height="5.98" fill="#ec7070"/>
<rect x="442.06" y="86.40" width="5.98" height="5.98" fill="#ea6060"/>
<rect x="447.99" y="86.40" width="5.98" height="5.98" fill="#f3a2a2"/>
<rect x="453.92" y="86.40" width="5.98" height="5.98" fill="#e64141"/>
<rect x="459.85" y="86.40" width="5.98" height="5.98" fill="#ee8080"/>
<rect x="370.90" y="92.33" width="5.98" height="5.98" fill="#ea6060"/>
<rect x="376.83" y="92.33" width="5.98" height="5.98" fill="#dd0000"/>
<rect x="382.76" y="92.33" width="5.98" height="5.98" fill="#f8c9c9"/>
<rect x="388.69" y="92.33" width="5.98" height="5.98" fill="#fadada"/>
<rect x="394.62" y="92.33" width="5.98" height="5.98" fill="#fadada"/>
<rect x="400.55" y="92.33" width="5.98" height="5.98" fill="#f3a2a2"/>
<rect x="412.41" y="92.33" width="5.98" height="5.98" fill="#ea6060"/>
<rect x="424.27" y="92.33" width="5.98" height="5.98" fill="#ea6060"/>
<rect x="430.20" y="92.33" width="5.98" height="5.98" fill="#f5b7b7"/>
<rect x="436.13" y="92.33" width="5.98" height="5.98" fill="#fadada"/>
<rect x="442.06" y="92.33" width="5.98" height="5.98" fill="#e5e6ff"/>
<rect x="447.99" y="92.33" width="5.98" height="5.98" fill="#adb0ff"/>
<rect x="453.92" y="92.33" width="5.98" height="5.98" fill="#eff0ff"/>
<rect x="459.85" y="92.33" width="5.98" height="5.98" fill="#ea6060"/>
<rect x="370.90" y="98.26" width="5.98" height="5.98" fill="#ef8888"/>
<rect x="376.83" y="98.26" width="5.98" height="5.98" fill="#f8c9c9"/>
<rect x="382.76" y="98.26" width="5.98" height="5.98" fill="#dd0000"/>
<rect x="388.69" y="98.26" width="5.98" height="5.98" fill="#e85050"/>
<rect x="394.62" y="98.26" width="5.98" height="5.98" fill="#e64141"/>
<rect x="400.55" y="98.26" width="5.98" height="5.98" fill="#ee8080"/>
<rect x="406.48" y="98.26" width="5.98" height="5.98" fill="#ea6060"/>
<rect x="412.41" y="98.26" width="5.98" height="5.98" fill="#ee8080"/>
<rect x="418.34" y="98.26" width="5.98" height="5.98" fill="#fce8e8"/>
<rect x="424.27" y="98.26" width="5.98" height="5.98" fill="#ea6060"/>
<rect x="430.20" y="98.26" width="5.98" height="5.98" fill="#e12121"/>
<rect x="436.13" y="98.26" width="5.98" height="5.98" fill="#e64141"/>
<rect x="442.06" y="98.26" width="5.98" height="5.98" fill="#ea6060"/>
<rect x="447.99" y="98.26" width="5.98" height="5.98" fill="#f8c9c9"/>
<rect x="453.92" y="98.26" width="5.98" height="5.98" fill="#ea6060"/>
<rect x="459.85" y="98.26" width="5.98" height="5.98" fill="#ee8080"/>
<rect x="370.90" y="104.19" width="5.98" height="5.98" fill="#f09090"/>
<rect x="376.83" y="104.19" width="5.98" height="5.98" fill="#fadada"/>
<rect x="382.76" y="104.19" width="5.98" height="5.98" fill="#e85050"/>
<rect x="388.69" y="104.19" width="5.98" height="5.98" fill="#dd0000"/>
<rect x="394.62" y="104.19" width="5.98" height="5.98" fill="#ee8080"/>
<rect x="400.55" y="104.19" width="5.98" height="5.98" fill="#f3a2a2"/>
<rect x="406.48" y="104.19" width="5.98" height="5.98" fill="#ee8080"/>
<rect x="412.41" y="104.19" width="5.98" height="5.98" fill="#ee8080"/>
<rect x="418.34" y="104.19" width="5.98" height="5.98" fill="#f8f8ff"/>
<rect x="430.20" y="104.19" width="5.98" height="5.98" fill="#ee8080"/>
<rect x="436.13" y="104.19" width="5.98" height="5.98" fill="#e64141"/>
<rect x="442.06" y="104.19" width="5.98" height="5.98" fill="#f3a2a2"/>
<rect x="447.99" y="104.19" width="5.98" height="5.98" fill="#f8c9c9"/>
<rect x="453.92" y="104.19" width="5.98" height="5.98" fill="#ea6060"/>
<rect x="459.85" y="104.19" width="5.98" height="5.98" fill="#ee8080"/>
<rect x="370.90" y="110.12" width="5.98" height="5.98" fill="#ea6060"/>
<rect x="376.83" y="110.12" width="5.98" height="5.98" fill="#fadada"/>
<rect x="382.76" y="110.12" width="5.98" height="5.98" fill="#e64141"/>
<rect x="388.69" y="110.12" width="5.98" height="5.98" fill="#ee8080"/>
<rect x="394.62" y="110.12" width="5.98" height="5.98" fill="#dd0000"/>
<rect x="400.55" y="110.12" width="5.98" height="5.98" fill="#ea6060"/>
<rect x="406.48" y="110.12" width="5.98" height="5.98" fill="#e12121"/>
<rect x="412.41" y="110.12" width="5.98" height="5.98" fill="#ea6060"/>
<rect x="418.34" y="110.12" width="5.98" height="5.98" fill="#fef4f4"/>
<rect x="424.27" y="110.12" width="5.98" height="5.98" fill="#ee8080"/>
<rect x="430.20" y="110.12" width="5.98" height="5.98" fill="#e33131"/>
<rect x="436.13" y="110.12" width="5.98" height="5.98" fill="#e85050"/>
<rect x="442.06" y="110.12" width="5.98" height="5.98" fill="#e33131"/>
<rect x="447.99" y="110.12" width="5.98" height="5.98" fill="#f8c9c9"/>
<rect x="453.92" y="110.12" width="5.98" height="5.98" fill="#e12121"/>
<rect x="459.85" y="110.12" width="5.98" height="5.98" fill="#ea6060"/>
<rect x="370.90" y="116.05" width="5.98" height="5.98" fill="#ea6060"/>
<rect x="376.83" y="116.05" width="5.98" height="5.98" fill="#f3a2a2"/>
<rect x="382.76" y="116.05" width="5.98" height="5.98" fill="#ee8080"/>
<rect x="388.69" y="116.05" width="5.98" height="5.98" fill="#f3a2a2"/>
<rect x="394.62" y="116.05" width="5.98" height="5.98" fill="#ea6060"/>
<rect x="400.55" y="116.05" width="5.98" height="5.98" fill="#dd0000"/>
<rect x="406.48" y="116.05" width="5.98" height="5.98" fill="#ee8080"/>
<rect x="412.41" y="116.05" width="5.98" height="5.98" fill="#ee8080"/>
<rect x="418.34" y="116.05" width="5.98" height="5.98" fill="#eff0ff"/>
<rect x="424.27" y="116.05" width="5.98" height="5.98" fill="#fef4f4"/>
<rect x="430.20" y="116.05" width="5.98" height="5.98" fill="#e85050"/>
<rect x="436.13" y="116.05" width="5.98" height="5.98" fill="#ee8080"/>
<rect x="442.06" y="116.05" width="5.98" height="5.98" fill="#e64141"/>
<rect x="447.99" y="116.05" width="5.98" height="5.98" fill="#e64141"/>
<rect x="453.92" y="116.05" width="5.98" height="5.98" fill="#ea6060"/>
<rect x="459.85" y="116.05" width="5.98" height="5.98" fill="#f8c9c9"/>
<rect x="370.90" y="121.98" width="5.98" height="5.98" fill="#ee8080"/>
<rect x="382.76" y="121.98" width="5.98" height="5.98" fill="#ea6060"/>
<rect x="388.69" y="121.98" width="5.98" height="5.98" fill="#ee8080"/>
<rect x="394.62" y="121.98" width="5.98" height="5.98" fill="#e12121"/>
<rect x="400.55" y="121.98" width="5.98" height="5.98" fill="#ee8080"/>
<rect x="406.48" y="121.98" width="5.98" height="5.98" fill="#dd0000"/>
<rect x="412.41" y="121.98" width="5.98" height="5.98" fill="#ea6060"/>
<rect x="418.34" y="121.98" width="5.98" height="5.98" fill="#fef4f4"/>
<rect x="424.27" y="121.98" width="5.98" height="5.98" fill="#f09090"/>
<rect x="430.20" y="121.98" width="5.98" height="5.98" fill="#e85050"/>
<rect x="436.13" y="121.98" width="5.98" height="5.98" fill="#e85050"/>
<rect x="442.06" y="121.98" width="5.98" height="5.98" fill="#e85050"/>
<rect x="447.99" y="121.98" width="5.98" height="5.98" fill="#fce8e8"/>
<rect x="453.92" y="121.98" width="5.98" height="5.98" fill="#dd0101"/>
<rect x="459.85" y="121.98" width="5.98" height="5.98" fill="#ee8080"/>
<rect x="370.90" y="127.91" width="5.98" height="5.98" fill="#ea6060"/>
<rect x="376.83" y="127.91" width="5.98" height="5.98" fill="#ea6060"/>
<rect x="382.76" y="127.91" width="5.98" height="5.98" fill="#ee8080"/>
<rect x="388.69" y="127.91" width="5.98" height="5.98" fill="#ee8080"/>
<rect x="394.62" y="127.91" width="5.98" height="5.98" fill="#ea6060"/>
<rect x="400.55" y="127.91" width="5.98" height="5.98" fill="#ee8080"/>
<rect x="406.48" y="127.91" width="5.98" height="5.98" fill="#ea6060"/>
<rect x="412.41" y="127.91" width="5.98" height="5.98" fill="#dd0000"/>
<rect x="418.34" y="127.91" width="5.98" height="5.98" fill="#f8f8ff"/>
<rect x="424.27" y="127.91" width="5.98" height="5.98" fill="#ee8080"/>
<rect x="430.20" y="127.91" width="5.98" height="5.98" fill="#ee8080"/>
<rect x="436.13" y="127.91" width="5.98" height="5.98" fill="#ee8080"/>
<rect x="442.06" y="127.91" width="5.98" height="5.98" fill="#f09090"/>
<rect x="447.99" y="127.91" width="5.98" height="5.98" fill="#e5e6ff"/>
<rect x="453.92" y="127.91" width="5.98" height="5.98" fill="#ea6060"/>
<rect x="459.85" y="127.91" width="5.98" height="5.98" fill="#e12121"/>
<rect x="370.90" y="133.84" width="5.98" height="5.98" fill="#ee8080"/>
<rect x="382.76" y="133.84" width="5.98" height="5.98" fill="#fce8e8"/>
<rect x="388.69" y="133.84" width="5.98" height="5.98" fill="#f8f8ff"/>
<rect x="394.62" y="133.84" width="5.98" height="5.98" fill="#fef4f4"/>
<rect x="400.55" y="133.84" width="5.98" height="5.98" fill="#eff0ff"/>
<rect x="406.48" y="133.84" width="5.98" height="5.98" fill="#fef4f4"/>
<rect x="412.41" y="133.84" width="5.98" height="5.98" fill="#f8f8ff"/>
<rect x="418.34" y="133.84" width="5.98" height="5.98" fill="#dd0000"/>
<rect x="424.27" y="133.84" width="5.98" height="5.98" fill="#e5e6ff"/>
<rect x="430.20" y="133.84" width="5.98" height="5.98" fill="#e5e6ff"/>
<rect x="436.13" y="133.84" width="5.98" height="5.98" fill="#eff0ff"/>
<rect x="442.06" y="133.84" width="5.98" height="5.98" fill="#eff0ff"/>
<rect x="447.99" y="133.84" width="5.98" height="5.98" fill="#f09090"/>
<rect x="459.85" y="133.84" width="5.98" height="5.98" fill="#ccceff"/>
<rect x="370.90" y="139.77" width="5.98" height="5.98" fill="#fce8e8"/>
<rect x="376.83" y="139.77" width="5.98" height="5.98" fill="#ea6060"/>
<rect x="382.76" y="139.77" width="5.98" height="5.98" fill="#ea6060"/>
<rect x="394.62" y="139.77" width="5.98" height="5.98" fill="#ee8080"/>
<rect x="400.55" y="139.77" width="5.98" height="5.98" fill="#fef4f4"/>
<rect x="406.48" y="139.77" width="5.98" height="5.98" fill="#f09090"/>
<rect x="412.41" y="139.77" width="5.98" height="5.98" fill="#ee8080"/>
<rect x="418.34" y="139.77" width="5.98" height="5.98" fill="#e5e6ff"/>
<rect x="424.27" y="139.77" width="5.98" height="5.98" fill="#dd0000"/>
<rect x="430.20" y="139.77" width="5.98" height="5.98" fill="#e85050"/>
<rect x="436.13" y="139.77" width="5.98" height="5.98" fill="#ec7070"/>
<rect x="442.06" y="139.77" width="5.98" height="5.98" fill="#f09090"/>
<rect x="447.99" y="139.77" width="5.98" height="5.98" fill="#e5e6ff"/>
<rect x="453.92" y="139.77" width="5.98" height="5.98" fill="#ee8080"/>
<rect x="459.85" y="139.77" width="5.98" height="5.98" fill="#ee8080"/>
<rect x="370.90" y="145.70" width="5.98" height="5.98" fill="#ee8080"/>
<rect x="376.83" y="145.70" width="5.98" height="5.98" fill="#f5b7b7"/>
<rect x="382.76" y="145.70" width="5.98" height="5.98" fill="#e12121"/>
<rect x="388.69" y="145.70" width="5.98" height="5.98" fill="#ee8080"/>
<rect x="394.62" y="145.70" width="5.98" height="5.98" fill="#e33131"/>
<rect x="400.55" y="145.70" width="5.98" height="5.98" fill="#e85050"/>
<rect x="406.48" y="145.70" width="5.98" height="5.98" fill="#e85050"/>
<rect x="412.41" y="145.70" width="5.98" height="5.98" fill="#ee8080"/>
<rect x="418.34" y="145.70" width="5.98" height="5.98" fill="#e5e6ff"/>
<rect x="424.27" y="145.70" width="5.98" height="5.98" fill="#e85050"/>
<rect x="430.20" y="145.70" width="5.98" height="5.98" fill="#dd0000"/>
<rect x="436.13" y="145.70" width="5.98" height="5.98" fill="#e64141"/>
<rect x="442.06" y="145.70" width="5.98" height="5.98" fill="#e64141"/>
<rect x="447.99" y="145.70" width="5.98" height="5.98" fill="#f09090"/>
<rect x="453.92" y="145.70" width="5.98" height="5.98" fill="#e85050"/>
<rect x="459.85" y="145.70" width="5.98" height="5.98" fill="#ee8080"/>
<rect x="370.90" y="151.63" width="5.98" height="5.98" fill="#ec7070"/>
<rect x="376.83" y="151.63" width="5.98" height="5.98" fill="#fadada"/>
<rect x="382.76" y="151.63" width="5.98" height="5.98" fill="#e64141"/>
<rect x="388.69" y="151.63" width="5.98" height="5.98" fill="#e64141"/>
<rect x="394.62" y="151.63" width="5.98" height="5.98" fill="#e85050"/>
<rect x="400.55" y="151.63" width="5.98" height="5.98" fill="#ee8080"/>
<rect x="406.48" y="151.63" width="5.98" height="5.98" fill="#e85050"/>
<rect x="412.41" y="151.63" width="5.98" height="5.98" fill="#ee8080"/>
<rect x="418.34" y="151.63" width="5.98" height="5.98" fill="#eff0ff"/>
<rect x="424.27" y="151.63" width="5.98" height="5.98" fill="#ec7070"/>
<rect x="430.20" y="151.63" width="5.98" height="5.98" fill="#e64141"/>
<rect x="436.13" y="151.63" width="5.98" height="5.98" fill="#dd0000"/>
<rect x="442.06" y="151.63" width="5.98" height="5.98" fill="#e85050"/>
<rect x="447.99" y="151.63" width="5.98" height="5.98" fill="#f8c9c9"/>
<rect x="453.92" y="151.63" width="5.98" height="5.98" fill="#e74949"/>
<rect x="459.85" y="151.63" width="5.98" height="5.98" fill="#f5b7b7"/>
<rect x="370.90" y="157.56" width="5.98" height="5.98" fill="#ea6060"/>
<rect x="376.83" y="157.56" width="5.98" height="5.98" fill="#e5e6ff"/>
<rect x="382.76" y="157.56" width="5.98" height="5.98" fill="#ea6060"/>
<rect x="388.69" y="157.56" width="5.98" height="5.98" fill="#f3a2a2"/>
<rect x="394.62" y="157.56" width="5.98" height="5.98" fill="#e33131"/>
<rect x="400.55" y="157.56" width="5.98" height="5.98" fill="#e64141"/>
<rect x="406.48" y="157.56" width="5.98" height="5.98" fill="#e85050"/>
<rect x="412.41" y="157.56" width="5.98" height="5.98" fill="#f09090"/>
<rect x="418.34" y="157.56" width="5.98" height="5.98" fill="#eff0ff"/>
<rect x="424.27" y="157.56" width="5.98" height="5.98" fill="#f09090"/>
<rect x="430.20" y="157.56" width="5.98" height="5.98" fill="#e64141"/>
<rect x="436.13" y="157.56" width="5.98" height="5.98" fill="#e85050"/>
<rect x="442.06" y="157.56" width="5.98" height="5.98" fill="#dd0000"/>
<rect x="447.99" y="157.56" width="5.98" height="5.98" fill="#ee8080"/>
<rect x="453.92" y="157.56" width="5.98" height="5.98" fill="#e64141"/>
<rect x="459.85" y="157.56" width="5.98" height="5.98" fill="#f4adad"/>
<rect x="370.90" y="163.49" width="5.98" height="5.98" fill="#f3a2a2"/>
<rect x="376.83" y="163.49" width="5.98" height="5.98" fill="#adb0ff"/>
<rect x="382.76" y="163.49" width="5.98" height="5.98" fill="#f8c9c9"/>
<rect x="388.69" y="163.49" width="5.98" height="5.98" fill="#f8c9c9"/>
<rect x="394.62" y="163.49" width="5.98" height="5.98" fill="#f8c9c9"/>
<rect x="400.55" y="163.49" width="5.98" height="5.98" fill="#e64141"/>
<rect x="406.48" y="163.49" width="5.98" height="5.98" fill="#fce8e8"/>
<rect x="412.41" y="163.49" width="5.98" height="5.98" fill="#e5e6ff"/>
<rect x="418.34" y="163.49" width="5.98" height="5.98" fill="#f09090"/>
<rect x="424.27" y="163.49" width="5.98" height="5.98" fill="#e5e6ff"/>
<rect x="430.20" y="163.49" width="5.98" height="5.98" fill="#f09090"/>
<rect x="436.13" y="163.49" width="5.98" height="5.98" fill="#f8c9c9"/>
<rect x="442.06" y="163.49" width="5.98" height="5.98" fill="#ee8080"/>
<rect x="447.99" y="163.49" width="5.98" height="5.98" fill="#dd0000"/>
<rect x="453.92" y="163.49" width="5.98" height="5.98" fill="#fce8e8"/>
<rect x="459.85" y="163.49" width="5.98" height="5.98" fill="#ccceff"/>
<rect x="370.90" y="169.42" width="5.98" height="5.98" fill="#e64141"/>
<rect x="376.83" y="169.42" width="5.98" height="5.98" fill="#eff0ff"/>
<rect x="382.76" y="169.42" width="5.98" height="5.98" fill="#ea6060"/>
<rect x="388.69" y="169.42" width="5.98" height="5.98" fill="#ea6060"/>
<rect x="394.62" y="169.42" width="5.98" height="5.98" fill="#e12121"/>
<rect x="400.55" y="169.42" width="5.98" height="5.98" fill="#ea6060"/>
<rect x="406.48" y="169.42" width="5.98" height="5.98" fill="#dd0101"/>
<rect x="412.41" y="169.42" width="5.98" height="5.98" fill="#ea6060"/>
<rect x="424.27" y="169.42" width="5.98" height="5.98" fill="#ee8080"/>
<rect x="430.20" y="169.42" width="5.98" height="5.98" fill="#e85050"/>
<rect x="436.13" y="169.42" width="5.98" height="5.98" fill="#e74949"/>
<rect x="442.06" y="169.42" width="5.98" height="5.98" fill="#e64141"/>
<rect x="447.99" y="169.42" width="5.98" height="5.98" fill="#fce8e8"/>
<rect x="453.92" y="169.42" width="5.98" height="5.98" fill="#dd0000"/>
<rect x="459.85" y="169.42" width="5.98" height="5.98" fill="#ee8080"/>
<rect x="370.90" y="175.35" width="5.98" height="5.98" fill="#ee8080"/>
<rect x="376.83" y="175.35" width="5.98" height="5.98" fill="#ea6060"/>
<rect x="382.76" y="175.35" width="5.98" height="5.98" fill="#ee8080"/>
<rect x="388.69" y="175.35" width="5.98" height="5.98" fill="#ee8080"/>
<rect x="394.62" y="175.35" width="5.98" height="5.98" fill="#ea6060"/>
<rect x="400.55" y="175.35" width="5.98" height="5.98" fill="#f8c9c9"/>
<rect x="406.48" y="175.35" width="5.98" height="5.98" fill="#ee8080"/>
<rect x="412.41" y="175.35" width="5.98" height="5.98" fill="#e12121"/>
<rect x="418.34" y="175.35" width="5.98" height="5.98" fill="#ccceff"/>
<rect x="424.27" y="175.35" width="5.98" height="5.98" fill="#ee8080"/>
<rect x="430.20" y="175.35" width="5.98" height="5.98" fill="#ee8080"/>
<rect x="436.13" y="175.35" width="5.98" height="5.98" fill="#f5b7b7"/>
<rect x="442.06" y="175.35" width="5.98" height="5.98" fill="#f4adad"/>
<rect x="447.99" y="175.35" width="5.98" height="5.98" fill="#ccceff"/>
<rect x="453.92" y="175.35" width="5.98" height="5.98" fill="#ee8080"/>
<rect x="459.85" y="175.35" width="5.98" height="5.98" fill="#dd0000"/>
<text x="394.4" y="45.8" font-size="6.70" text-anchor="middle" stroke="#1a1a1a" stroke-width="0.05">Tcon</text>
<text x="443.6" y="45.8" font-size="6.70" text-anchor="middle" stroke="#1a1a1a" stroke-width="0.05">Treg</text>
<line x1="372.2" x2="416.5" y1="51.1" y2="51.1" stroke="#5a5a5a" stroke-width="1.7"/>
<line x1="423.2" x2="464.2" y1="51.1" y2="51.1" stroke="#5a5a5a" stroke-width="1.7"/>
<text transform="translate(375.34 82.60) rotate(-90) scale(1 1.2)" font-size="4.35" fill="#3a3a3a" stroke="#3a3a3a" stroke-width="0.08">pSTAT1/ UT</text>
<text transform="translate(381.27 82.60) rotate(-90) scale(1 1.2)" font-size="4.35" fill="#3a3a3a" stroke="#3a3a3a" stroke-width="0.08">pSTAT3/ UT</text>
<text transform="translate(387.20 82.60) rotate(-90) scale(1 1.2)" font-size="4.35" fill="#3a3a3a" stroke="#3a3a3a" stroke-width="0.08">pSTAT1/ IL6</text>
<text transform="translate(393.13 82.60) rotate(-90) scale(1 1.2)" font-size="4.35" fill="#3a3a3a" stroke="#3a3a3a" stroke-width="0.08">pSTAT3/ IL6</text>
<text transform="translate(399.06 82.60) rotate(-90) scale(1 1.2)" font-size="4.35" fill="#3a3a3a" stroke="#3a3a3a" stroke-width="0.08">pSTAT1/ IFNα</text>
<text transform="translate(404.99 82.60) rotate(-90) scale(1 1.2)" font-size="4.35" fill="#3a3a3a" stroke="#3a3a3a" stroke-width="0.08">pSTAT5/ UT</text>
<text transform="translate(410.92 82.60) rotate(-90) scale(1 1.2)" font-size="4.35" fill="#3a3a3a" stroke="#3a3a3a" stroke-width="0.08">pSTAT5/ IL2</text>
<text transform="translate(416.85 82.60) rotate(-90) scale(1 1.2)" font-size="4.35" fill="#3a3a3a" stroke="#3a3a3a" stroke-width="0.08">pSTAT5/ IFNα</text>
<text transform="translate(422.78 82.60) rotate(-90) scale(1 1.2)" font-size="4.35" fill="#3a3a3a" stroke="#3a3a3a" stroke-width="0.08">pSTAT1/ UT</text>
<text transform="translate(428.71 82.60) rotate(-90) scale(1 1.2)" font-size="4.35" fill="#3a3a3a" stroke="#3a3a3a" stroke-width="0.08">pSTAT3/ UT</text>
<text transform="translate(434.64 82.60) rotate(-90) scale(1 1.2)" font-size="4.35" fill="#3a3a3a" stroke="#3a3a3a" stroke-width="0.08">pSTAT1/ IL6</text>
<text transform="translate(440.57 82.60) rotate(-90) scale(1 1.2)" font-size="4.35" fill="#3a3a3a" stroke="#3a3a3a" stroke-width="0.08">pSTAT3/ IL6</text>
<text transform="translate(446.50 82.60) rotate(-90) scale(1 1.2)" font-size="4.35" fill="#3a3a3a" stroke="#3a3a3a" stroke-width="0.08">pSTAT1/ IFNα</text>
<text transform="translate(452.43 82.60) rotate(-90) scale(1 1.2)" font-size="4.35" fill="#3a3a3a" stroke="#3a3a3a" stroke-width="0.08">pSTAT5/ UT</text>
<text transform="translate(458.36 82.60) rotate(-90) scale(1 1.2)" font-size="4.35" fill="#3a3a3a" stroke="#3a3a3a" stroke-width="0.08">pSTAT5/ IL2</text>
<text transform="translate(464.29 82.60) rotate(-90) scale(1 1.2)" font-size="4.35" fill="#3a3a3a" stroke="#3a3a3a" stroke-width="0.08">pSTAT5/ IFNα</text>
<text x="469.30" y="91.00" font-size="4.55" fill="#444" stroke="#444" stroke-width="0.08">pSTAT1/ UT</text>
<text x="469.30" y="96.93" font-size="4.55" fill="#444" stroke="#444" stroke-width="0.08">pSTAT3/ UT</text>
<text x="469.30" y="102.86" font-size="4.55" fill="#444" stroke="#444" stroke-width="0.08">pSTAT1/ IL6</text>
<text x="469.30" y="108.79" font-size="4.55" fill="#444" stroke="#444" stroke-width="0.08">pSTAT3/ IL6</text>
<text x="469.30" y="114.72" font-size="4.55" fill="#444" stroke="#444" stroke-width="0.08">pSTAT1/ IFNα</text>
<text x="469.30" y="120.65" font-size="4.55" fill="#444" stroke="#444" stroke-width="0.08">pSTAT5/ UT</text>
<text x="469.30" y="126.58" font-size="4.55" fill="#444" stroke="#444" stroke-width="0.08">pSTAT5/ IL2</text>
<text x="469.30" y="132.51" font-size="4.55" fill="#444" stroke="#444" stroke-width="0.08">pSTAT5/ IFNα</text>
<text x="469.30" y="138.44" font-size="4.55" fill="#444" stroke="#444" stroke-width="0.08">pSTAT1/ UT</text>
<text x="469.30" y="144.37" font-size="4.55" fill="#444" stroke="#444" stroke-width="0.08">pSTAT3/ UT</text>
<text x="469.30" y="150.30" font-size="4.55" fill="#444" stroke="#444" stroke-width="0.08">pSTAT1/ IL6</text>
<text x="469.30" y="156.23" font-size="4.55" fill="#444" stroke="#444" stroke-width="0.08">pSTAT3/ IL6</text>
<text x="469.30" y="162.16" font-size="4.55" fill="#444" stroke="#444" stroke-width="0.08">pSTAT1/ IFNα</text>
<text x="469.30" y="168.09" font-size="4.55" fill="#444" stroke="#444" stroke-width="0.08">pSTAT5/ UT</text>
<text x="469.30" y="174.02" font-size="4.55" fill="#444" stroke="#444" stroke-width="0.08">pSTAT5/ IL2</text>
<text x="469.30" y="179.95" font-size="4.55" fill="#444" stroke="#444" stroke-width="0.08">pSTAT5/ IFNα</text>
<line x1="501.1" x2="501.1" y1="88.7" y2="132.7" stroke="#333" stroke-width="1.1"/>
<line x1="501.1" x2="501.1" y1="137.1" y2="180.8" stroke="#333" stroke-width="1.1"/>
<text transform="translate(506.40 110.80) rotate(90)" font-size="6.80" text-anchor="middle" stroke="#1a1a1a" stroke-width="0.1">Tcon</text>
<text transform="translate(506.40 159.40) rotate(90)" font-size="6.80" text-anchor="middle" stroke="#1a1a1a" stroke-width="0.1">Treg</text>
<text transform="translate(367.40 133.90) rotate(-90)" font-size="6.80" text-anchor="middle" stroke="#1a1a1a" stroke-width="0.05">Cy6</text>
<rect x="31.40" y="272.10" width="6.01" height="5.97" fill="#dd0000"/>
<rect x="37.36" y="272.10" width="6.01" height="5.97" fill="#f7c1c1"/>
<rect x="43.32" y="272.10" width="6.01" height="5.97" fill="#d9dbff"/>
<rect x="49.28" y="272.10" width="6.01" height="5.97" fill="#868bff"/>
<rect x="55.24" y="272.10" width="6.01" height="5.97" fill="#d3d5ff"/>
<rect x="61.20" y="272.10" width="6.01" height="5.97" fill="#e64747"/>
<rect x="67.16" y="272.10" width="6.01" height="5.97" fill="#f8f8ff"/>
<rect x="73.12" y="272.10" width="6.01" height="5.97" fill="#bdc0ff"/>
<rect x="79.08" y="272.10" width="6.01" height="5.97" fill="#e11c1c"/>
<rect x="85.04" y="272.10" width="6.01" height="5.97" fill="#f7c1c1"/>
<rect x="96.96" y="272.10" width="6.01" height="5.97" fill="#ccceff"/>
<rect x="102.92" y="272.10" width="6.01" height="5.97" fill="#e5e6ff"/>
<rect x="108.88" y="272.10" width="6.01" height="5.97" fill="#f29d9d"/>
<rect x="114.84" y="272.10" width="6.01" height="5.97" fill="#f4b0b0"/>
<rect x="120.80" y="272.10" width="6.01" height="5.97" fill="#e5e6ff"/>
<rect x="31.40" y="278.02" width="6.01" height="5.97" fill="#f7c1c1"/>
<rect x="37.36" y="278.02" width="6.01" height="5.97" fill="#dd0000"/>
<rect x="49.28" y="278.02" width="6.01" height="5.97" fill="#9fa3ff"/>
<rect x="55.24" y="278.02" width="6.01" height="5.97" fill="#f9d0d0"/>
<rect x="61.20" y="278.02" width="6.01" height="5.97" fill="#f29d9d"/>
<rect x="67.16" y="278.02" width="6.01" height="5.97" fill="#eff0ff"/>
<rect x="73.12" y="278.02" width="6.01" height="5.97" fill="#f9d0d0"/>
<rect x="79.08" y="278.02" width="6.01" height="5.97" fill="#f29d9d"/>
<rect x="85.04" y="278.02" width="6.01" height="5.97" fill="#e64747"/>
<rect x="96.96" y="278.02" width="6.01" height="5.97" fill="#bdc0ff"/>
<rect x="102.92" y="278.02" width="6.01" height="5.97" fill="#d9dbff"/>
<rect x="108.88" y="278.02" width="6.01" height="5.97" fill="#ec7171"/>
<rect x="114.84" y="278.02" width="6.01" height="5.97" fill="#fcebeb"/>
<rect x="120.80" y="278.02" width="6.01" height="5.97" fill="#fbdede"/>
<rect x="31.40" y="283.94" width="6.01" height="5.97" fill="#d9dbff"/>
<rect x="43.32" y="283.94" width="6.01" height="5.97" fill="#dd0000"/>
<rect x="49.28" y="283.94" width="6.01" height="5.97" fill="#f29d9d"/>
<rect x="55.24" y="283.94" width="6.01" height="5.97" fill="#e85555"/>
<rect x="67.16" y="283.94" width="6.01" height="5.97" fill="#f29d9d"/>
<rect x="73.12" y="283.94" width="6.01" height="5.97" fill="#ea6363"/>
<rect x="79.08" y="283.94" width="6.01" height="5.97" fill="#d9dbff"/>
<rect x="85.04" y="283.94" width="6.01" height="5.97" fill="#ccceff"/>
<rect x="91.00" y="283.94" width="6.01" height="5.97" fill="#e53939"/>
<rect x="96.96" y="283.94" width="6.01" height="5.97" fill="#f29d9d"/>
<rect x="102.92" y="283.94" width="6.01" height="5.97" fill="#f08e8e"/>
<rect x="108.88" y="283.94" width="6.01" height="5.97" fill="#d9dbff"/>
<rect x="114.84" y="283.94" width="6.01" height="5.97" fill="#f4b0b0"/>
<rect x="120.80" y="283.94" width="6.01" height="5.97" fill="#ec7171"/>
<rect x="31.40" y="289.86" width="6.01" height="5.97" fill="#868bff"/>
<rect x="37.36" y="289.86" width="6.01" height="5.97" fill="#9fa3ff"/>
<rect x="43.32" y="289.86" width="6.01" height="5.97" fill="#f29d9d"/>
<rect x="49.28" y="289.86" width="6.01" height="5.97" fill="#dd0000"/>
<rect x="61.20" y="289.86" width="6.01" height="5.97" fill="#eff0ff"/>
<rect x="67.16" y="289.86" width="6.01" height="5.97" fill="#bdc0ff"/>
<rect x="73.12" y="289.86" width="6.01" height="5.97" fill="#f08e8e"/>
<rect x="79.08" y="289.86" width="6.01" height="5.97" fill="#868bff"/>
<rect x="85.04" y="289.86" width="6.01" height="5.97" fill="#525aff"/>
<rect x="91.00" y="289.86" width="6.01" height="5.97" fill="#f29d9d"/>
<rect x="96.96" y="289.86" width="6.01" height="5.97" fill="#e11c1c"/>
<rect x="108.88" y="289.86" width="6.01" height="5.97" fill="#e5e6ff"/>
<rect x="114.84" y="289.86" width="6.01" height="5.97" fill="#868bff"/>
<rect x="120.80" y="289.86" width="6.01" height="5.97" fill="#ee8080"/>
<rect x="31.40" y="295.78" width="6.01" height="5.97" fill="#d3d5ff"/>
<rect x="37.36" y="295.78" width="6.01" height="5.97" fill="#f9d0d0"/>
<rect x="43.32" y="295.78" width="6.01" height="5.97" fill="#e85555"/>
<rect x="55.24" y="295.78" width="6.01" height="5.97" fill="#dd0000"/>
<rect x="67.16" y="295.78" width="6.01" height="5.97" fill="#e85555"/>
<rect x="73.12" y="295.78" width="6.01" height="5.97" fill="#ea6363"/>
<rect x="79.08" y="295.78" width="6.01" height="5.97" fill="#d9dbff"/>
<rect x="85.04" y="295.78" width="6.01" height="5.97" fill="#fcebeb"/>
<rect x="91.00" y="295.78" width="6.01" height="5.97" fill="#ea6363"/>
<rect x="96.96" y="295.78" width="6.01" height="5.97" fill="#eff0ff"/>
<rect x="102.92" y="295.78" width="6.01" height="5.97" fill="#e53939"/>
<rect x="108.88" y="295.78" width="6.01" height="5.97" fill="#d9dbff"/>
<rect x="114.84" y="295.78" width="6.01" height="5.97" fill="#e85555"/>
<rect x="120.80" y="295.78" width="6.01" height="5.97" fill="#f29d9d"/>
<rect x="31.40" y="301.70" width="6.01" height="5.97" fill="#e64747"/>
<rect x="37.36" y="301.70" width="6.01" height="5.97" fill="#f29d9d"/>
<rect x="49.28" y="301.70" width="6.01" height="5.97" fill="#eff0ff"/>
<rect x="61.20" y="301.70" width="6.01" height="5.97" fill="#dd0000"/>
<rect x="67.16" y="301.70" width="6.01" height="5.97" fill="#eff0ff"/>
<rect x="73.12" y="301.70" width="6.01" height="5.97" fill="#d9dbff"/>
<rect x="79.08" y="301.70" width="6.01" height="5.97" fill="#e53939"/>
<rect x="85.04" y="301.70" width="6.01" height="5.97" fill="#f9d0d0"/>
<rect x="91.00" y="301.70" width="6.01" height="5.97" fill="#fef6f6"/>
<rect x="96.96" y="301.70" width="6.01" height="5.97" fill="#fef6f6"/>
<rect x="102.92" y="301.70" width="6.01" height="5.97" fill="#9fa3ff"/>
<rect x="108.88" y="301.70" width="6.01" height="5.97" fill="#e64747"/>
<rect x="114.84" y="301.70" width="6.01" height="5.97" fill="#fef6f6"/>
<rect x="120.80" y="301.70" width="6.01" height="5.97" fill="#fef6f6"/>
<rect x="31.40" y="307.62" width="6.01" height="5.97" fill="#f8f8ff"/>
<rect x="37.36" y="307.62" width="6.01" height="5.97" fill="#eff0ff"/>
<rect x="43.32" y="307.62" width="6.01" height="5.97" fill="#f29d9d"/>
<rect x="49.28" y="307.62" width="6.01" height="5.97" fill="#bdc0ff"/>
<rect x="55.24" y="307.62" width="6.01" height="5.97" fill="#e85555"/>
<rect x="61.20" y="307.62" width="6.01" height="5.97" fill="#eff0ff"/>
<rect x="67.16" y="307.62" width="6.01" height="5.97" fill="#dd0000"/>
<rect x="73.12" y="307.62" width="6.01" height="5.97" fill="#f9d0d0"/>
<rect x="79.08" y="307.62" width="6.01" height="5.97" fill="#fbdede"/>
<rect x="85.04" y="307.62" width="6.01" height="5.97" fill="#f9d0d0"/>
<rect x="96.96" y="307.62" width="6.01" height="5.97" fill="#868bff"/>
<rect x="102.92" y="307.62" width="6.01" height="5.97" fill="#f29d9d"/>
<rect x="114.84" y="307.62" width="6.01" height="5.97" fill="#e53939"/>
<rect x="120.80" y="307.62" width="6.01" height="5.97" fill="#e5e6ff"/>
<rect x="31.40" y="313.54" width="6.01" height="5.97" fill="#bdc0ff"/>
<rect x="37.36" y="313.54" width="6.01" height="5.97" fill="#f9d0d0"/>
<rect x="43.32" y="313.54" width="6.01" height="5.97" fill="#ea6363"/>
<rect x="49.28" y="313.54" width="6.01" height="5.97" fill="#f08e8e"/>
<rect x="55.24" y="313.54" width="6.01" height="5.97" fill="#ea6363"/>
<rect x="61.20" y="313.54" width="6.01" height="5.97" fill="#d9dbff"/>
<rect x="67.16" y="313.54" width="6.01" height="5.97" fill="#f9d0d0"/>
<rect x="73.12" y="313.54" width="6.01" height="5.97" fill="#dd0000"/>
<rect x="79.08" y="313.54" width="6.01" height="5.97" fill="#bdc0ff"/>
<rect x="85.04" y="313.54" width="6.01" height="5.97" fill="#bdc0ff"/>
<rect x="91.00" y="313.54" width="6.01" height="5.97" fill="#ec7171"/>
<rect x="96.96" y="313.54" width="6.01" height="5.97" fill="#ec7171"/>
<rect x="102.92" y="313.54" width="6.01" height="5.97" fill="#f08e8e"/>
<rect x="108.88" y="313.54" width="6.01" height="5.97" fill="#ccceff"/>
<rect x="120.80" y="313.54" width="6.01" height="5.97" fill="#e11c1c"/>
<rect x="31.40" y="319.46" width="6.01" height="5.97" fill="#e11c1c"/>
<rect x="37.36" y="319.46" width="6.01" height="5.97" fill="#f29d9d"/>
<rect x="43.32" y="319.46" width="6.01" height="5.97" fill="#d9dbff"/>
<rect x="49.28" y="319.46" width="6.01" height="5.97" fill="#868bff"/>
<rect x="55.24" y="319.46" width="6.01" height="5.97" fill="#d9dbff"/>
<rect x="61.20" y="319.46" width="6.01" height="5.97" fill="#e53939"/>
<rect x="67.16" y="319.46" width="6.01" height="5.97" fill="#fbdede"/>
<rect x="73.12" y="319.46" width="6.01" height="5.97" fill="#bdc0ff"/>
<rect x="79.08" y="319.46" width="6.01" height="5.97" fill="#dd0000"/>
<rect x="85.04" y="319.46" width="6.01" height="5.97" fill="#f08e8e"/>
<rect x="91.00" y="319.46" width="6.01" height="5.97" fill="#eff0ff"/>
<rect x="96.96" y="319.46" width="6.01" height="5.97" fill="#9fa3ff"/>
<rect x="102.92" y="319.46" width="6.01" height="5.97" fill="#bdc0ff"/>
<rect x="108.88" y="319.46" width="6.01" height="5.97" fill="#ed7878"/>
<rect x="114.84" y="319.46" width="6.01" height="5.97" fill="#f4b0b0"/>
<rect x="120.80" y="319.46" width="6.01" height="5.97" fill="#dfe1ff"/>
<rect x="31.40" y="325.38" width="6.01" height="5.97" fill="#f7c1c1"/>
<rect x="37.36" y="325.38" width="6.01" height="5.97" fill="#e64747"/>
<rect x="43.32" y="325.38" width="6.01" height="5.97" fill="#ccceff"/>
<rect x="49.28" y="325.38" width="6.01" height="5.97" fill="#525aff"/>
<rect x="55.24" y="325.38" width="6.01" height="5.97" fill="#fcebeb"/>
<rect x="61.20" y="325.38" width="6.01" height="5.97" fill="#f9d0d0"/>
<rect x="67.16" y="325.38" width="6.01" height="5.97" fill="#f9d0d0"/>
<rect x="73.12" y="325.38" width="6.01" height="5.97" fill="#bdc0ff"/>
<rect x="79.08" y="325.38" width="6.01" height="5.97" fill="#f08e8e"/>
<rect x="85.04" y="325.38" width="6.01" height="5.97" fill="#dd0000"/>
<rect x="91.00" y="325.38" width="6.01" height="5.97" fill="#999dff"/>
<rect x="96.96" y="325.38" width="6.01" height="5.97" fill="#525aff"/>
<rect x="102.92" y="325.38" width="6.01" height="5.97" fill="#ccceff"/>
<rect x="108.88" y="325.38" width="6.01" height="5.97" fill="#f08e8e"/>
<rect x="114.84" y="325.38" width="6.01" height="5.97" fill="#f29d9d"/>
<rect x="120.80" y="325.38" width="6.01" height="5.97" fill="#9fa3ff"/>
<rect x="43.32" y="331.30" width="6.01" height="5.97" fill="#e53939"/>
<rect x="49.28" y="331.30" width="6.01" height="5.97" fill="#f29d9d"/>
<rect x="55.24" y="331.30" width="6.01" height="5.97" fill="#ea6363"/>
<rect x="61.20" y="331.30" width="6.01" height="5.97" fill="#fef6f6"/>
<rect x="73.12" y="331.30" width="6.01" height="5.97" fill="#ec7171"/>
<rect x="79.08" y="331.30" width="6.01" height="5.97" fill="#eff0ff"/>
<rect x="85.04" y="331.30" width="6.01" height="5.97" fill="#999dff"/>
<rect x="91.00" y="331.30" width="6.01" height="5.97" fill="#dd0000"/>
<rect x="96.96" y="331.30" width="6.01" height="5.97" fill="#ee8080"/>
<rect x="102.92" y="331.30" width="6.01" height="5.97" fill="#ec7171"/>
<rect x="108.88" y="331.30" width="6.01" height="5.97" fill="#d3d5ff"/>
<rect x="114.84" y="331.30" width="6.01" height="5.97" fill="#f7c1c1"/>
<rect x="120.80" y="331.30" width="6.01" height="5.97" fill="#ec7171"/>
<rect x="31.40" y="337.22" width="6.01" height="5.97" fill="#ccceff"/>
<rect x="37.36" y="337.22" width="6.01" height="5.97" fill="#bdc0ff"/>
<rect x="43.32" y="337.22" width="6.01" height="5.97" fill="#f29d9d"/>
<rect x="49.28" y="337.22" width="6.01" height="5.97" fill="#e11c1c"/>
<rect x="55.24" y="337.22" width="6.01" height="5.97" fill="#eff0ff"/>
<rect x="61.20" y="337.22" width="6.01" height="5.97" fill="#fef6f6"/>
<rect x="67.16" y="337.22" width="6.01" height="5.97" fill="#868bff"/>
<rect x="73.12" y="337.22" width="6.01" height="5.97" fill="#ec7171"/>
<rect x="79.08" y="337.22" width="6.01" height="5.97" fill="#9fa3ff"/>
<rect x="85.04" y="337.22" width="6.01" height="5.97" fill="#525aff"/>
<rect x="91.00" y="337.22" width="6.01" height="5.97" fill="#ee8080"/>
<rect x="96.96" y="337.22" width="6.01" height="5.97" fill="#dd0000"/>
<rect x="102.92" y="337.22" width="6.01" height="5.97" fill="#fcebeb"/>
<rect x="108.88" y="337.22" width="6.01" height="5.97" fill="#d3d5ff"/>
<rect x="114.84" y="337.22" width="6.01" height="5.97" fill="#8c91ff"/>
<rect x="120.80" y="337.22" width="6.01" height="5.97" fill="#ec7171"/>
<rect x="31.40" y="343.14" width="6.01" height="5.97" fill="#e5e6ff"/>
<rect x="37.36" y="343.14" width="6.01" height="5.97" fill="#d9dbff"/>
<rect x="43.32" y="343.14" width="6.01" height="5.97" fill="#f08e8e"/>
<rect x="55.24" y="343.14" width="6.01" height="5.97" fill="#e53939"/>
<rect x="61.20" y="343.14" width="6.01" height="5.97" fill="#9fa3ff"/>
<rect x="67.16" y="343.14" width="6.01" height="5.97" fill="#f29d9d"/>
<rect x="73.12" y="343.14" width="6.01" height="5.97" fill="#f08e8e"/>
<rect x="79.08" y="343.14" width="6.01" height="5.97" fill="#bdc0ff"/>
<rect x="85.04" y="343.14" width="6.01" height="5.97" fill="#ccceff"/>
<rect x="91.00" y="343.14" width="6.01" height="5.97" fill="#ec7171"/>
<rect x="96.96" y="343.14" width="6.01" height="5.97" fill="#fcebeb"/>
<rect x="102.92" y="343.14" width="6.01" height="5.97" fill="#dd0000"/>
<rect x="108.88" y="343.14" width="6.01" height="5.97" fill="#525aff"/>
<rect x="114.84" y="343.14" width="6.01" height="5.97" fill="#ea6363"/>
<rect x="120.80" y="343.14" width="6.01" height="5.97" fill="#f29d9d"/>
<rect x="31.40" y="349.06" width="6.01" height="5.97" fill="#f29d9d"/>
<rect x="37.36" y="349.06" width="6.01" height="5.97" fill="#ec7171"/>
<rect x="43.32" y="349.06" width="6.01" height="5.97" fill="#d9dbff"/>
<rect x="49.28" y="349.06" width="6.01" height="5.97" fill="#e5e6ff"/>
<rect x="55.24" y="349.06" width="6.01" height="5.97" fill="#d9dbff"/>
<rect x="61.20" y="349.06" width="6.01" height="5.97" fill="#e64747"/>
<rect x="73.12" y="349.06" width="6.01" height="5.97" fill="#ccceff"/>
<rect x="79.08" y="349.06" width="6.01" height="5.97" fill="#ed7878"/>
<rect x="85.04" y="349.06" width="6.01" height="5.97" fill="#f08e8e"/>
<rect x="91.00" y="349.06" width="6.01" height="5.97" fill="#d3d5ff"/>
<rect x="96.96" y="349.06" width="6.01" height="5.97" fill="#d3d5ff"/>
<rect x="102.92" y="349.06" width="6.01" height="5.97" fill="#525aff"/>
<rect x="108.88" y="349.06" width="6.01" height="5.97" fill="#dd0000"/>
<rect x="114.84" y="349.06" width="6.01" height="5.97" fill="#f4f4ff"/>
<rect x="120.80" y="349.06" width="6.01" height="5.97" fill="#bdc0ff"/>
<rect x="31.40" y="354.98" width="6.01" height="5.97" fill="#f4b0b0"/>
<rect x="37.36" y="354.98" width="6.01" height="5.97" fill="#fcebeb"/>
<rect x="43.32" y="354.98" width="6.01" height="5.97" fill="#f4b0b0"/>
<rect x="49.28" y="354.98" width="6.01" height="5.97" fill="#868bff"/>
<rect x="55.24" y="354.98" width="6.01" height="5.97" fill="#e85555"/>
<rect x="61.20" y="354.98" width="6.01" height="5.97" fill="#fef6f6"/>
<rect x="67.16" y="354.98" width="6.01" height="5.97" fill="#e53939"/>
<rect x="79.08" y="354.98" width="6.01" height="5.97" fill="#f4b0b0"/>
<rect x="85.04" y="354.98" width="6.01" height="5.97" fill="#f29d9d"/>
<rect x="91.00" y="354.98" width="6.01" height="5.97" fill="#f7c1c1"/>
<rect x="96.96" y="354.98" width="6.01" height="5.97" fill="#8c91ff"/>
<rect x="102.92" y="354.98" width="6.01" height="5.97" fill="#ea6363"/>
<rect x="108.88" y="354.98" width="6.01" height="5.97" fill="#f4f4ff"/>
<rect x="114.84" y="354.98" width="6.01" height="5.97" fill="#dd0000"/>
<rect x="120.80" y="354.98" width="6.01" height="5.97" fill="#eaebff"/>
<rect x="31.40" y="360.90" width="6.01" height="5.97" fill="#e5e6ff"/>
<rect x="37.36" y="360.90" width="6.01" height="5.97" fill="#fbdede"/>
<rect x="43.32" y="360.90" width="6.01" height="5.97" fill="#ec7171"/>
<rect x="49.28" y="360.90" width="6.01" height="5.97" fill="#ee8080"/>
<rect x="55.24" y="360.90" width="6.01" height="5.97" fill="#f29d9d"/>
<rect x="61.20" y="360.90" width="6.01" height="5.97" fill="#fef6f6"/>
<rect x="67.16" y="360.90" width="6.01" height="5.97" fill="#e5e6ff"/>
<rect x="73.12" y="360.90" width="6.01" height="5.97" fill="#e11c1c"/>
<rect x="79.08" y="360.90" width="6.01" height="5.97" fill="#dfe1ff"/>
<rect x="85.04" y="360.90" width="6.01" height="5.97" fill="#9fa3ff"/>
<rect x="91.00" y="360.90" width="6.01" height="5.97" fill="#ec7171"/>
<rect x="96.96" y="360.90" width="6.01" height="5.97" fill="#ec7171"/>
<rect x="102.92" y="360.90" width="6.01" height="5.97" fill="#f29d9d"/>
<rect x="108.88" y="360.90" width="6.01" height="5.97" fill="#bdc0ff"/>
<rect x="114.84" y="360.90" width="6.01" height="5.97" fill="#eaebff"/>
<rect x="120.80" y="360.90" width="6.01" height="5.97" fill="#dd0000"/>
<text x="54.1" y="231.5" font-size="6.70" text-anchor="middle" stroke="#1a1a1a" stroke-width="0.05">Tcon</text>
<text x="105.4" y="231.5" font-size="6.70" text-anchor="middle" stroke="#1a1a1a" stroke-width="0.05">Treg</text>
<line x1="31.8" x2="76.1" y1="236.5" y2="236.5" stroke="#5a5a5a" stroke-width="1.7"/>
<line x1="84.2" x2="125.7" y1="236.5" y2="236.5" stroke="#5a5a5a" stroke-width="1.7"/>
<text transform="translate(35.86 267.60) rotate(-90) scale(1 1.2)" font-size="4.35" fill="#3a3a3a" stroke="#3a3a3a" stroke-width="0.08">pSTAT1/ UT</text>
<text transform="translate(41.82 267.60) rotate(-90) scale(1 1.2)" font-size="4.35" fill="#3a3a3a" stroke="#3a3a3a" stroke-width="0.08">pSTAT3/ UT</text>
<text transform="translate(47.78 267.60) rotate(-90) scale(1 1.2)" font-size="4.35" fill="#3a3a3a" stroke="#3a3a3a" stroke-width="0.08">pSTAT1/ IL6</text>
<text transform="translate(53.74 267.60) rotate(-90) scale(1 1.2)" font-size="4.35" fill="#3a3a3a" stroke="#3a3a3a" stroke-width="0.08">pSTAT3/ IL6</text>
<text transform="translate(59.70 267.60) rotate(-90) scale(1 1.2)" font-size="4.35" fill="#3a3a3a" stroke="#3a3a3a" stroke-width="0.08">pSTAT1/ IFNα</text>
<text transform="translate(65.66 267.60) rotate(-90) scale(1 1.2)" font-size="4.35" fill="#3a3a3a" stroke="#3a3a3a" stroke-width="0.08">pSTAT5/ UT</text>
<text transform="translate(71.62 267.60) rotate(-90) scale(1 1.2)" font-size="4.35" fill="#3a3a3a" stroke="#3a3a3a" stroke-width="0.08">pSTAT5/ IL2</text>
<text transform="translate(77.58 267.60) rotate(-90) scale(1 1.2)" font-size="4.35" fill="#3a3a3a" stroke="#3a3a3a" stroke-width="0.08">pSTAT5/ IFNα</text>
<text transform="translate(83.54 267.60) rotate(-90) scale(1 1.2)" font-size="4.35" fill="#3a3a3a" stroke="#3a3a3a" stroke-width="0.08">pSTAT1/ UT</text>
<text transform="translate(89.50 267.60) rotate(-90) scale(1 1.2)" font-size="4.35" fill="#3a3a3a" stroke="#3a3a3a" stroke-width="0.08">pSTAT3/ UT</text>
<text transform="translate(95.46 267.60) rotate(-90) scale(1 1.2)" font-size="4.35" fill="#3a3a3a" stroke="#3a3a3a" stroke-width="0.08">pSTAT1/ IL6</text>
<text transform="translate(101.42 267.60) rotate(-90) scale(1 1.2)" font-size="4.35" fill="#3a3a3a" stroke="#3a3a3a" stroke-width="0.08">pSTAT3/ IL6</text>
<text transform="translate(107.38 267.60) rotate(-90) scale(1 1.2)" font-size="4.35" fill="#3a3a3a" stroke="#3a3a3a" stroke-width="0.08">pSTAT1/ IFNα</text>
<text transform="translate(113.34 267.60) rotate(-90) scale(1 1.2)" font-size="4.35" fill="#3a3a3a" stroke="#3a3a3a" stroke-width="0.08">pSTAT5/ UT</text>
<text transform="translate(119.30 267.60) rotate(-90) scale(1 1.2)" font-size="4.35" fill="#3a3a3a" stroke="#3a3a3a" stroke-width="0.08">pSTAT5/ IL2</text>
<text transform="translate(125.26 267.60) rotate(-90) scale(1 1.2)" font-size="4.35" fill="#3a3a3a" stroke="#3a3a3a" stroke-width="0.08">pSTAT5/ IFNα</text>
<text x="129.80" y="276.70" font-size="4.55" fill="#444" stroke="#444" stroke-width="0.08">pSTAT1/ UT</text>
<text x="129.80" y="282.62" font-size="4.55" fill="#444" stroke="#444" stroke-width="0.08">pSTAT3/ UT</text>
<text x="129.80" y="288.54" font-size="4.55" fill="#444" stroke="#444" stroke-width="0.08">pSTAT1/ IL6</text>
<text x="129.80" y="294.46" font-size="4.55" fill="#444" stroke="#444" stroke-width="0.08">pSTAT3/ IL6</text>
<text x="129.80" y="300.38" font-size="4.55" fill="#444" stroke="#444" stroke-width="0.08">pSTAT1/ IFNα</text>
<text x="129.80" y="306.30" font-size="4.55" fill="#444" stroke="#444" stroke-width="0.08">pSTAT5/ UT</text>
<text x="129.80" y="312.22" font-size="4.55" fill="#444" stroke="#444" stroke-width="0.08">pSTAT5/ IL2</text>
<text x="129.80" y="318.14" font-size="4.55" fill="#444" stroke="#444" stroke-width="0.08">pSTAT5/ IFNα</text>
<text x="129.80" y="324.06" font-size="4.55" fill="#444" stroke="#444" stroke-width="0.08">pSTAT1/ UT</text>
<text x="129.80" y="329.98" font-size="4.55" fill="#444" stroke="#444" stroke-width="0.08">pSTAT3/ UT</text>
<text x="129.80" y="335.90" font-size="4.55" fill="#444" stroke="#444" stroke-width="0.08">pSTAT1/ IL6</text>
<text x="129.80" y="341.82" font-size="4.55" fill="#444" stroke="#444" stroke-width="0.08">pSTAT3/ IL6</text>
<text x="129.80" y="347.74" font-size="4.55" fill="#444" stroke="#444" stroke-width="0.08">pSTAT1/ IFNα</text>
<text x="129.80" y="353.66" font-size="4.55" fill="#444" stroke="#444" stroke-width="0.08">pSTAT5/ UT</text>
<text x="129.80" y="359.58" font-size="4.55" fill="#444" stroke="#444" stroke-width="0.08">pSTAT5/ IL2</text>
<text x="129.80" y="365.50" font-size="4.55" fill="#444" stroke="#444" stroke-width="0.08">pSTAT5/ IFNα</text>
<line x1="162.2" x2="162.2" y1="272.0" y2="315.5" stroke="#333" stroke-width="1.1"/>
<line x1="162.2" x2="162.2" y1="320.6" y2="364.8" stroke="#333" stroke-width="1.1"/>
<text transform="translate(167.90 294.00) rotate(90)" font-size="6.80" text-anchor="middle" stroke="#1a1a1a" stroke-width="0.1">Tcon</text>
<text transform="translate(167.90 342.90) rotate(90)" font-size="6.80" text-anchor="middle" stroke="#1a1a1a" stroke-width="0.1">Treg</text>
<text transform="translate(27.00 319.50) rotate(-90)" font-size="6.75" text-anchor="middle" stroke="#1a1a1a" stroke-width="0.05">Pre-treatment</text>
<rect x="201.10" y="269.10" width="6.22" height="6.17" fill="#dd0000"/>
<rect x="207.27" y="269.10" width="6.22" height="6.17" fill="#f9d0d0"/>
<rect x="213.44" y="269.10" width="6.22" height="6.17" fill="#797fff"/>
<rect x="219.61" y="269.10" width="6.22" height="6.17" fill="#e5e6ff"/>
<rect x="225.78" y="269.10" width="6.22" height="6.17" fill="#adb0ff"/>
<rect x="231.95" y="269.10" width="6.22" height="6.17" fill="#ea6363"/>
<rect x="238.12" y="269.10" width="6.22" height="6.17" fill="#adb0ff"/>
<rect x="244.29" y="269.10" width="6.22" height="6.17" fill="#f9d0d0"/>
<rect x="250.46" y="269.10" width="6.22" height="6.17" fill="#f7c1c1"/>
<rect x="262.80" y="269.10" width="6.22" height="6.17" fill="#9297ff"/>
<rect x="268.97" y="269.10" width="6.22" height="6.17" fill="#d9dbff"/>
<rect x="275.14" y="269.10" width="6.22" height="6.17" fill="#ccceff"/>
<rect x="281.31" y="269.10" width="6.22" height="6.17" fill="#ea6363"/>
<rect x="287.48" y="269.10" width="6.22" height="6.17" fill="#adb0ff"/>
<rect x="293.65" y="269.10" width="6.22" height="6.17" fill="#f8f8ff"/>
<rect x="201.10" y="275.22" width="6.22" height="6.17" fill="#f9d0d0"/>
<rect x="207.27" y="275.22" width="6.22" height="6.17" fill="#dd0000"/>
<rect x="219.61" y="275.22" width="6.22" height="6.17" fill="#f4b0b0"/>
<rect x="225.78" y="275.22" width="6.22" height="6.17" fill="#dfe1ff"/>
<rect x="231.95" y="275.22" width="6.22" height="6.17" fill="#ec7171"/>
<rect x="238.12" y="275.22" width="6.22" height="6.17" fill="#868bff"/>
<rect x="244.29" y="275.22" width="6.22" height="6.17" fill="#ec7171"/>
<rect x="250.46" y="275.22" width="6.22" height="6.17" fill="#d9dbff"/>
<rect x="256.63" y="275.22" width="6.22" height="6.17" fill="#fcebeb"/>
<rect x="268.97" y="275.22" width="6.22" height="6.17" fill="#f29d9d"/>
<rect x="275.14" y="275.22" width="6.22" height="6.17" fill="#868bff"/>
<rect x="281.31" y="275.22" width="6.22" height="6.17" fill="#f29d9d"/>
<rect x="287.48" y="275.22" width="6.22" height="6.17" fill="#868bff"/>
<rect x="293.65" y="275.22" width="6.22" height="6.17" fill="#ea6363"/>
<rect x="201.10" y="281.34" width="6.22" height="6.17" fill="#797fff"/>
<rect x="213.44" y="281.34" width="6.22" height="6.17" fill="#dd0000"/>
<rect x="219.61" y="281.34" width="6.22" height="6.17" fill="#f4b0b0"/>
<rect x="225.78" y="281.34" width="6.22" height="6.17" fill="#ea6363"/>
<rect x="231.95" y="281.34" width="6.22" height="6.17" fill="#adb0ff"/>
<rect x="238.12" y="281.34" width="6.22" height="6.17" fill="#f29d9d"/>
<rect x="244.29" y="281.34" width="6.22" height="6.17" fill="#f9d0d0"/>
<rect x="250.46" y="281.34" width="6.22" height="6.17" fill="#fef6f6"/>
<rect x="256.63" y="281.34" width="6.22" height="6.17" fill="#d9dbff"/>
<rect x="262.80" y="281.34" width="6.22" height="6.17" fill="#f08e8e"/>
<rect x="268.97" y="281.34" width="6.22" height="6.17" fill="#f29d9d"/>
<rect x="275.14" y="281.34" width="6.22" height="6.17" fill="#f29d9d"/>
<rect x="281.31" y="281.34" width="6.22" height="6.17" fill="#adb0ff"/>
<rect x="287.48" y="281.34" width="6.22" height="6.17" fill="#f29d9d"/>
<rect x="293.65" y="281.34" width="6.22" height="6.17" fill="#f9d0d0"/>
<rect x="201.10" y="287.46" width="6.22" height="6.17" fill="#e5e6ff"/>
<rect x="207.27" y="287.46" width="6.22" height="6.17" fill="#f4b0b0"/>
<rect x="213.44" y="287.46" width="6.22" height="6.17" fill="#f4b0b0"/>
<rect x="219.61" y="287.46" width="6.22" height="6.17" fill="#dd0000"/>
<rect x="225.78" y="287.46" width="6.22" height="6.17" fill="#9297ff"/>
<rect x="238.12" y="287.46" width="6.22" height="6.17" fill="#868bff"/>
<rect x="244.29" y="287.46" width="6.22" height="6.17" fill="#fef6f6"/>
<rect x="250.46" y="287.46" width="6.22" height="6.17" fill="#adb0ff"/>
<rect x="256.63" y="287.46" width="6.22" height="6.17" fill="#2b35ff"/>
<rect x="262.80" y="287.46" width="6.22" height="6.17" fill="#adb0ff"/>
<rect x="268.97" y="287.46" width="6.22" height="6.17" fill="#e11c1c"/>
<rect x="275.14" y="287.46" width="6.22" height="6.17" fill="#525aff"/>
<rect x="281.31" y="287.46" width="6.22" height="6.17" fill="#adb0ff"/>
<rect x="287.48" y="287.46" width="6.22" height="6.17" fill="#868bff"/>
<rect x="293.65" y="287.46" width="6.22" height="6.17" fill="#e85555"/>
<rect x="201.10" y="293.58" width="6.22" height="6.17" fill="#adb0ff"/>
<rect x="207.27" y="293.58" width="6.22" height="6.17" fill="#dfe1ff"/>
<rect x="213.44" y="293.58" width="6.22" height="6.17" fill="#ea6363"/>
<rect x="219.61" y="293.58" width="6.22" height="6.17" fill="#9297ff"/>
<rect x="225.78" y="293.58" width="6.22" height="6.17" fill="#dd0000"/>
<rect x="231.95" y="293.58" width="6.22" height="6.17" fill="#e5e6ff"/>
<rect x="238.12" y="293.58" width="6.22" height="6.17" fill="#ea6363"/>
<rect x="244.29" y="293.58" width="6.22" height="6.17" fill="#f29d9d"/>
<rect x="250.46" y="293.58" width="6.22" height="6.17" fill="#f29d9d"/>
<rect x="256.63" y="293.58" width="6.22" height="6.17" fill="#ea6363"/>
<rect x="262.80" y="293.58" width="6.22" height="6.17" fill="#f08e8e"/>
<rect x="268.97" y="293.58" width="6.22" height="6.17" fill="#9297ff"/>
<rect x="275.14" y="293.58" width="6.22" height="6.17" fill="#e32a2a"/>
<rect x="281.31" y="293.58" width="6.22" height="6.17" fill="#f7c1c1"/>
<rect x="287.48" y="293.58" width="6.22" height="6.17" fill="#e85555"/>
<rect x="293.65" y="293.58" width="6.22" height="6.17" fill="#d9dbff"/>
<rect x="201.10" y="299.70" width="6.22" height="6.17" fill="#ea6363"/>
<rect x="207.27" y="299.70" width="6.22" height="6.17" fill="#ec7171"/>
<rect x="213.44" y="299.70" width="6.22" height="6.17" fill="#adb0ff"/>
<rect x="225.78" y="299.70" width="6.22" height="6.17" fill="#e5e6ff"/>
<rect x="231.95" y="299.70" width="6.22" height="6.17" fill="#dd0000"/>
<rect x="238.12" y="299.70" width="6.22" height="6.17" fill="#797fff"/>
<rect x="244.29" y="299.70" width="6.22" height="6.17" fill="#f29d9d"/>
<rect x="250.46" y="299.70" width="6.22" height="6.17" fill="#fbdede"/>
<rect x="256.63" y="299.70" width="6.22" height="6.17" fill="#fbdede"/>
<rect x="262.80" y="299.70" width="6.22" height="6.17" fill="#d9dbff"/>
<rect x="268.97" y="299.70" width="6.22" height="6.17" fill="#f8f8ff"/>
<rect x="275.14" y="299.70" width="6.22" height="6.17" fill="#eff0ff"/>
<rect x="281.31" y="299.70" width="6.22" height="6.17" fill="#e85555"/>
<rect x="287.48" y="299.70" width="6.22" height="6.17" fill="#868bff"/>
<rect x="293.65" y="299.70" width="6.22" height="6.17" fill="#f9d0d0"/>
<rect x="201.10" y="305.82" width="6.22" height="6.17" fill="#adb0ff"/>
<rect x="207.27" y="305.82" width="6.22" height="6.17" fill="#868bff"/>
<rect x="213.44" y="305.82" width="6.22" height="6.17" fill="#f29d9d"/>
<rect x="219.61" y="305.82" width="6.22" height="6.17" fill="#868bff"/>
<rect x="225.78" y="305.82" width="6.22" height="6.17" fill="#ea6363"/>
<rect x="231.95" y="305.82" width="6.22" height="6.17" fill="#797fff"/>
<rect x="238.12" y="305.82" width="6.22" height="6.17" fill="#dd0000"/>
<rect x="256.63" y="305.82" width="6.22" height="6.17" fill="#ec7171"/>
<rect x="262.80" y="305.82" width="6.22" height="6.17" fill="#ea6363"/>
<rect x="268.97" y="305.82" width="6.22" height="6.17" fill="#868bff"/>
<rect x="275.14" y="305.82" width="6.22" height="6.17" fill="#ea6363"/>
<rect x="281.31" y="305.82" width="6.22" height="6.17" fill="#eff0ff"/>
<rect x="287.48" y="305.82" width="6.22" height="6.17" fill="#e11c1c"/>
<rect x="293.65" y="305.82" width="6.22" height="6.17" fill="#ccceff"/>
<rect x="201.10" y="311.94" width="6.22" height="6.17" fill="#f9d0d0"/>
<rect x="207.27" y="311.94" width="6.22" height="6.17" fill="#ec7171"/>
<rect x="213.44" y="311.94" width="6.22" height="6.17" fill="#f9d0d0"/>
<rect x="219.61" y="311.94" width="6.22" height="6.17" fill="#fef6f6"/>
<rect x="225.78" y="311.94" width="6.22" height="6.17" fill="#f29d9d"/>
<rect x="231.95" y="311.94" width="6.22" height="6.17" fill="#f29d9d"/>
<rect x="244.29" y="311.94" width="6.22" height="6.17" fill="#dd0000"/>
<rect x="250.46" y="311.94" width="6.22" height="6.17" fill="#f7c1c1"/>
<rect x="256.63" y="311.94" width="6.22" height="6.17" fill="#f4b0b0"/>
<rect x="262.80" y="311.94" width="6.22" height="6.17" fill="#f8f8ff"/>
<rect x="275.14" y="311.94" width="6.22" height="6.17" fill="#fcebeb"/>
<rect x="281.31" y="311.94" width="6.22" height="6.17" fill="#ec7171"/>
<rect x="293.65" y="311.94" width="6.22" height="6.17" fill="#ea6363"/>
<rect x="201.10" y="318.06" width="6.22" height="6.17" fill="#f7c1c1"/>
<rect x="207.27" y="318.06" width="6.22" height="6.17" fill="#d9dbff"/>
<rect x="213.44" y="318.06" width="6.22" height="6.17" fill="#fef6f6"/>
<rect x="219.61" y="318.06" width="6.22" height="6.17" fill="#adb0ff"/>
<rect x="225.78" y="318.06" width="6.22" height="6.17" fill="#f29d9d"/>
<rect x="231.95" y="318.06" width="6.22" height="6.17" fill="#fbdede"/>
<rect x="244.29" y="318.06" width="6.22" height="6.17" fill="#f7c1c1"/>
<rect x="250.46" y="318.06" width="6.22" height="6.17" fill="#dd0000"/>
<rect x="256.63" y="318.06" width="6.22" height="6.17" fill="#f7c1c1"/>
<rect x="262.80" y="318.06" width="6.22" height="6.17" fill="#868bff"/>
<rect x="268.97" y="318.06" width="6.22" height="6.17" fill="#ccceff"/>
<rect x="275.14" y="318.06" width="6.22" height="6.17" fill="#f29d9d"/>
<rect x="281.31" y="318.06" width="6.22" height="6.17" fill="#ea6363"/>
<rect x="287.48" y="318.06" width="6.22" height="6.17" fill="#f8f8ff"/>
<rect x="293.65" y="318.06" width="6.22" height="6.17" fill="#9297ff"/>
<rect x="207.27" y="324.18" width="6.22" height="6.17" fill="#fcebeb"/>
<rect x="213.44" y="324.18" width="6.22" height="6.17" fill="#d9dbff"/>
<rect x="219.61" y="324.18" width="6.22" height="6.17" fill="#2b35ff"/>
<rect x="225.78" y="324.18" width="6.22" height="6.17" fill="#ea6363"/>
<rect x="231.95" y="324.18" width="6.22" height="6.17" fill="#fbdede"/>
<rect x="238.12" y="324.18" width="6.22" height="6.17" fill="#ec7171"/>
<rect x="244.29" y="324.18" width="6.22" height="6.17" fill="#f4b0b0"/>
<rect x="250.46" y="324.18" width="6.22" height="6.17" fill="#f7c1c1"/>
<rect x="256.63" y="324.18" width="6.22" height="6.17" fill="#dd0000"/>
<rect x="262.80" y="324.18" width="6.22" height="6.17" fill="#f29d9d"/>
<rect x="268.97" y="324.18" width="6.22" height="6.17" fill="#3841ff"/>
<rect x="275.14" y="324.18" width="6.22" height="6.17" fill="#e64747"/>
<rect x="281.31" y="324.18" width="6.22" height="6.17" fill="#eb6a6a"/>
<rect x="287.48" y="324.18" width="6.22" height="6.17" fill="#ea6363"/>
<rect x="293.65" y="324.18" width="6.22" height="6.17" fill="#d9dbff"/>
<rect x="201.10" y="330.30" width="6.22" height="6.17" fill="#9297ff"/>
<rect x="213.44" y="330.30" width="6.22" height="6.17" fill="#f08e8e"/>
<rect x="219.61" y="330.30" width="6.22" height="6.17" fill="#adb0ff"/>
<rect x="225.78" y="330.30" width="6.22" height="6.17" fill="#f08e8e"/>
<rect x="231.95" y="330.30" width="6.22" height="6.17" fill="#d9dbff"/>
<rect x="238.12" y="330.30" width="6.22" height="6.17" fill="#ea6363"/>
<rect x="244.29" y="330.30" width="6.22" height="6.17" fill="#f8f8ff"/>
<rect x="250.46" y="330.30" width="6.22" height="6.17" fill="#868bff"/>
<rect x="256.63" y="330.30" width="6.22" height="6.17" fill="#f29d9d"/>
<rect x="262.80" y="330.30" width="6.22" height="6.17" fill="#dd0000"/>
<rect x="268.97" y="330.30" width="6.22" height="6.17" fill="#bdc0ff"/>
<rect x="275.14" y="330.30" width="6.22" height="6.17" fill="#f29d9d"/>
<rect x="281.31" y="330.30" width="6.22" height="6.17" fill="#adb0ff"/>
<rect x="287.48" y="330.30" width="6.22" height="6.17" fill="#ea6363"/>
<rect x="293.65" y="330.30" width="6.22" height="6.17" fill="#f9d0d0"/>
<rect x="201.10" y="336.42" width="6.22" height="6.17" fill="#d9dbff"/>
<rect x="207.27" y="336.42" width="6.22" height="6.17" fill="#f29d9d"/>
<rect x="213.44" y="336.42" width="6.22" height="6.17" fill="#f29d9d"/>
<rect x="219.61" y="336.42" width="6.22" height="6.17" fill="#e11c1c"/>
<rect x="225.78" y="336.42" width="6.22" height="6.17" fill="#9297ff"/>
<rect x="231.95" y="336.42" width="6.22" height="6.17" fill="#f8f8ff"/>
<rect x="238.12" y="336.42" width="6.22" height="6.17" fill="#868bff"/>
<rect x="250.46" y="336.42" width="6.22" height="6.17" fill="#ccceff"/>
<rect x="256.63" y="336.42" width="6.22" height="6.17" fill="#3841ff"/>
<rect x="262.80" y="336.42" width="6.22" height="6.17" fill="#bdc0ff"/>
<rect x="268.97" y="336.42" width="6.22" height="6.17" fill="#dd0000"/>
<rect x="275.14" y="336.42" width="6.22" height="6.17" fill="#525aff"/>
<rect x="281.31" y="336.42" width="6.22" height="6.17" fill="#adb0ff"/>
<rect x="287.48" y="336.42" width="6.22" height="6.17" fill="#868bff"/>
<rect x="293.65" y="336.42" width="6.22" height="6.17" fill="#ea6363"/>
<rect x="201.10" y="342.54" width="6.22" height="6.17" fill="#ccceff"/>
<rect x="207.27" y="342.54" width="6.22" height="6.17" fill="#868bff"/>
<rect x="213.44" y="342.54" width="6.22" height="6.17" fill="#f29d9d"/>
<rect x="219.61" y="342.54" width="6.22" height="6.17" fill="#525aff"/>
<rect x="225.78" y="342.54" width="6.22" height="6.17" fill="#e32a2a"/>
<rect x="231.95" y="342.54" width="6.22" height="6.17" fill="#eff0ff"/>
<rect x="238.12" y="342.54" width="6.22" height="6.17" fill="#ea6363"/>
<rect x="244.29" y="342.54" width="6.22" height="6.17" fill="#fcebeb"/>
<rect x="250.46" y="342.54" width="6.22" height="6.17" fill="#f29d9d"/>
<rect x="256.63" y="342.54" width="6.22" height="6.17" fill="#e64747"/>
<rect x="262.80" y="342.54" width="6.22" height="6.17" fill="#f29d9d"/>
<rect x="268.97" y="342.54" width="6.22" height="6.17" fill="#525aff"/>
<rect x="275.14" y="342.54" width="6.22" height="6.17" fill="#dd0000"/>
<rect x="281.31" y="342.54" width="6.22" height="6.17" fill="#f29d9d"/>
<rect x="287.48" y="342.54" width="6.22" height="6.17" fill="#e85555"/>
<rect x="293.65" y="342.54" width="6.22" height="6.17" fill="#bdc0ff"/>
<rect x="201.10" y="348.66" width="6.22" height="6.17" fill="#ea6363"/>
<rect x="207.27" y="348.66" width="6.22" height="6.17" fill="#f29d9d"/>
<rect x="213.44" y="348.66" width="6.22" height="6.17" fill="#adb0ff"/>
<rect x="219.61" y="348.66" width="6.22" height="6.17" fill="#adb0ff"/>
<rect x="225.78" y="348.66" width="6.22" height="6.17" fill="#f7c1c1"/>
<rect x="231.95" y="348.66" width="6.22" height="6.17" fill="#e85555"/>
<rect x="238.12" y="348.66" width="6.22" height="6.17" fill="#eff0ff"/>
<rect x="244.29" y="348.66" width="6.22" height="6.17" fill="#ec7171"/>
<rect x="250.46" y="348.66" width="6.22" height="6.17" fill="#ea6363"/>
<rect x="256.63" y="348.66" width="6.22" height="6.17" fill="#eb6a6a"/>
<rect x="262.80" y="348.66" width="6.22" height="6.17" fill="#adb0ff"/>
<rect x="268.97" y="348.66" width="6.22" height="6.17" fill="#adb0ff"/>
<rect x="275.14" y="348.66" width="6.22" height="6.17" fill="#f29d9d"/>
<rect x="281.31" y="348.66" width="6.22" height="6.17" fill="#dd0000"/>
<rect x="287.48" y="348.66" width="6.22" height="6.17" fill="#eff0ff"/>
<rect x="293.65" y="348.66" width="6.22" height="6.17" fill="#eff0ff"/>
<rect x="201.10" y="354.78" width="6.22" height="6.17" fill="#adb0ff"/>
<rect x="207.27" y="354.78" width="6.22" height="6.17" fill="#868bff"/>
<rect x="213.44" y="354.78" width="6.22" height="6.17" fill="#f29d9d"/>
<rect x="219.61" y="354.78" width="6.22" height="6.17" fill="#868bff"/>
<rect x="225.78" y="354.78" width="6.22" height="6.17" fill="#e85555"/>
<rect x="231.95" y="354.78" width="6.22" height="6.17" fill="#868bff"/>
<rect x="238.12" y="354.78" width="6.22" height="6.17" fill="#e11c1c"/>
<rect x="250.46" y="354.78" width="6.22" height="6.17" fill="#f8f8ff"/>
<rect x="256.63" y="354.78" width="6.22" height="6.17" fill="#ea6363"/>
<rect x="262.80" y="354.78" width="6.22" height="6.17" fill="#ea6363"/>
<rect x="268.97" y="354.78" width="6.22" height="6.17" fill="#868bff"/>
<rect x="275.14" y="354.78" width="6.22" height="6.17" fill="#e85555"/>
<rect x="281.31" y="354.78" width="6.22" height="6.17" fill="#eff0ff"/>
<rect x="287.48" y="354.78" width="6.22" height="6.17" fill="#dd0000"/>
<rect x="293.65" y="354.78" width="6.22" height="6.17" fill="#eff0ff"/>
<rect x="201.10" y="360.90" width="6.22" height="6.17" fill="#f8f8ff"/>
<rect x="207.27" y="360.90" width="6.22" height="6.17" fill="#ea6363"/>
<rect x="213.44" y="360.90" width="6.22" height="6.17" fill="#f9d0d0"/>
<rect x="219.61" y="360.90" width="6.22" height="6.17" fill="#e85555"/>
<rect x="225.78" y="360.90" width="6.22" height="6.17" fill="#d9dbff"/>
<rect x="231.95" y="360.90" width="6.22" height="6.17" fill="#f9d0d0"/>
<rect x="238.12" y="360.90" width="6.22" height="6.17" fill="#ccceff"/>
<rect x="244.29" y="360.90" width="6.22" height="6.17" fill="#ea6363"/>
<rect x="250.46" y="360.90" width="6.22" height="6.17" fill="#9297ff"/>
<rect x="256.63" y="360.90" width="6.22" height="6.17" fill="#d9dbff"/>
<rect x="262.80" y="360.90" width="6.22" height="6.17" fill="#f9d0d0"/>
<rect x="268.97" y="360.90" width="6.22" height="6.17" fill="#ea6363"/>
<rect x="275.14" y="360.90" width="6.22" height="6.17" fill="#bdc0ff"/>
<rect x="281.31" y="360.90" width="6.22" height="6.17" fill="#eff0ff"/>
<rect x="287.48" y="360.90" width="6.22" height="6.17" fill="#eff0ff"/>
<rect x="293.65" y="360.90" width="6.22" height="6.17" fill="#dd0000"/>
<text x="228.0" y="228.4" font-size="6.70" text-anchor="middle" stroke="#1a1a1a" stroke-width="0.05">Tcon</text>
<text x="277.4" y="228.4" font-size="6.70" text-anchor="middle" stroke="#1a1a1a" stroke-width="0.05">Treg</text>
<line x1="205.8" x2="250.4" y1="233.0" y2="233.0" stroke="#5a5a5a" stroke-width="1.7"/>
<line x1="256.3" x2="298.1" y1="233.0" y2="233.0" stroke="#5a5a5a" stroke-width="1.7"/>
<text transform="translate(206.06 265.50) rotate(-90) scale(1 1.2)" font-size="4.53" fill="#3a3a3a" stroke="#3a3a3a" stroke-width="0.08">pSTAT1/ UT</text>
<text transform="translate(212.23 265.50) rotate(-90) scale(1 1.2)" font-size="4.53" fill="#3a3a3a" stroke="#3a3a3a" stroke-width="0.08">pSTAT3/ UT</text>
<text transform="translate(218.40 265.50) rotate(-90) scale(1 1.2)" font-size="4.53" fill="#3a3a3a" stroke="#3a3a3a" stroke-width="0.08">pSTAT1/ IL6</text>
<text transform="translate(224.57 265.50) rotate(-90) scale(1 1.2)" font-size="4.53" fill="#3a3a3a" stroke="#3a3a3a" stroke-width="0.08">pSTAT3/ IL6</text>
<text transform="translate(230.74 265.50) rotate(-90) scale(1 1.2)" font-size="4.53" fill="#3a3a3a" stroke="#3a3a3a" stroke-width="0.08">pSTAT1/ IFNα</text>
<text transform="translate(236.91 265.50) rotate(-90) scale(1 1.2)" font-size="4.53" fill="#3a3a3a" stroke="#3a3a3a" stroke-width="0.08">pSTAT5/ UT</text>
<text transform="translate(243.08 265.50) rotate(-90) scale(1 1.2)" font-size="4.53" fill="#3a3a3a" stroke="#3a3a3a" stroke-width="0.08">pSTAT5/ IL2</text>
<text transform="translate(249.25 265.50) rotate(-90) scale(1 1.2)" font-size="4.53" fill="#3a3a3a" stroke="#3a3a3a" stroke-width="0.08">pSTAT5/ IFNα</text>
<text transform="translate(255.42 265.50) rotate(-90) scale(1 1.2)" font-size="4.53" fill="#3a3a3a" stroke="#3a3a3a" stroke-width="0.08">pSTAT1/ UT</text>
<text transform="translate(261.59 265.50) rotate(-90) scale(1 1.2)" font-size="4.53" fill="#3a3a3a" stroke="#3a3a3a" stroke-width="0.08">pSTAT3/ UT</text>
<text transform="translate(267.76 265.50) rotate(-90) scale(1 1.2)" font-size="4.53" fill="#3a3a3a" stroke="#3a3a3a" stroke-width="0.08">pSTAT1/ IL6</text>
<text transform="translate(273.93 265.50) rotate(-90) scale(1 1.2)" font-size="4.53" fill="#3a3a3a" stroke="#3a3a3a" stroke-width="0.08">pSTAT3/ IL6</text>
<text transform="translate(280.10 265.50) rotate(-90) scale(1 1.2)" font-size="4.53" fill="#3a3a3a" stroke="#3a3a3a" stroke-width="0.08">pSTAT1/ IFNα</text>
<text transform="translate(286.27 265.50) rotate(-90) scale(1 1.2)" font-size="4.53" fill="#3a3a3a" stroke="#3a3a3a" stroke-width="0.08">pSTAT5/ UT</text>
<text transform="translate(292.44 265.50) rotate(-90) scale(1 1.2)" font-size="4.53" fill="#3a3a3a" stroke="#3a3a3a" stroke-width="0.08">pSTAT5/ IL2</text>
<text transform="translate(298.61 265.50) rotate(-90) scale(1 1.2)" font-size="4.53" fill="#3a3a3a" stroke="#3a3a3a" stroke-width="0.08">pSTAT5/ IFNα</text>
<text x="304.10" y="273.85" font-size="4.70" fill="#444" stroke="#444" stroke-width="0.08">pSTAT1/ UT</text>
<text x="304.10" y="279.97" font-size="4.70" fill="#444" stroke="#444" stroke-width="0.08">pSTAT3/ UT</text>
<text x="304.10" y="286.09" font-size="4.70" fill="#444" stroke="#444" stroke-width="0.08">pSTAT1/ IL6</text>
<text x="304.10" y="292.21" font-size="4.70" fill="#444" stroke="#444" stroke-width="0.08">pSTAT3/ IL6</text>
<text x="304.10" y="298.33" font-size="4.70" fill="#444" stroke="#444" stroke-width="0.08">pSTAT1/ IFNα</text>
<text x="304.10" y="304.45" font-size="4.70" fill="#444" stroke="#444" stroke-width="0.08">pSTAT5/ UT</text>
<text x="304.10" y="310.57" font-size="4.70" fill="#444" stroke="#444" stroke-width="0.08">pSTAT5/ IL2</text>
<text x="304.10" y="316.69" font-size="4.70" fill="#444" stroke="#444" stroke-width="0.08">pSTAT5/ IFNα</text>
<text x="304.10" y="322.81" font-size="4.70" fill="#444" stroke="#444" stroke-width="0.08">pSTAT1/ UT</text>
<text x="304.10" y="328.93" font-size="4.70" fill="#444" stroke="#444" stroke-width="0.08">pSTAT3/ UT</text>
<text x="304.10" y="335.05" font-size="4.70" fill="#444" stroke="#444" stroke-width="0.08">pSTAT1/ IL6</text>
<text x="304.10" y="341.17" font-size="4.70" fill="#444" stroke="#444" stroke-width="0.08">pSTAT3/ IL6</text>
<text x="304.10" y="347.29" font-size="4.70" fill="#444" stroke="#444" stroke-width="0.08">pSTAT1/ IFNα</text>
<text x="304.10" y="353.41" font-size="4.70" fill="#444" stroke="#444" stroke-width="0.08">pSTAT5/ UT</text>
<text x="304.10" y="359.53" font-size="4.70" fill="#444" stroke="#444" stroke-width="0.08">pSTAT5/ IL2</text>
<text x="304.10" y="365.65" font-size="4.70" fill="#444" stroke="#444" stroke-width="0.08">pSTAT5/ IFNα</text>
<line x1="335.9" x2="335.9" y1="270.7" y2="315.3" stroke="#333" stroke-width="1.1"/>
<line x1="335.9" x2="335.9" y1="321.5" y2="365.9" stroke="#333" stroke-width="1.1"/>
<text transform="translate(341.10 289.90) rotate(90)" font-size="6.80" text-anchor="middle" stroke="#1a1a1a" stroke-width="0.1">Tcon</text>
<text transform="translate(341.10 341.20) rotate(90)" font-size="6.80" text-anchor="middle" stroke="#1a1a1a" stroke-width="0.1">Treg</text>
<text transform="translate(196.70 317.80) rotate(-90)" font-size="7.10" text-anchor="middle" stroke="#1a1a1a" stroke-width="0.05">D15</text>
<rect x="370.10" y="272.00" width="5.98" height="5.98" fill="#dd0000"/>
<rect x="376.03" y="272.00" width="5.98" height="5.98" fill="#fcebeb"/>
<rect x="381.96" y="272.00" width="5.98" height="5.98" fill="#bdc0ff"/>
<rect x="387.89" y="272.00" width="5.98" height="5.98" fill="#fdf0f0"/>
<rect x="393.82" y="272.00" width="5.98" height="5.98" fill="#eaebff"/>
<rect x="399.75" y="272.00" width="5.98" height="5.98" fill="#f29d9d"/>
<rect x="405.68" y="272.00" width="5.98" height="5.98" fill="#f7c1c1"/>
<rect x="411.61" y="272.00" width="5.98" height="5.98" fill="#eff0ff"/>
<rect x="417.54" y="272.00" width="5.98" height="5.98" fill="#e53939"/>
<rect x="423.47" y="272.00" width="5.98" height="5.98" fill="#eff0ff"/>
<rect x="429.40" y="272.00" width="5.98" height="5.98" fill="#e5e6ff"/>
<rect x="435.33" y="272.00" width="5.98" height="5.98" fill="#fef6f6"/>
<rect x="441.26" y="272.00" width="5.98" height="5.98" fill="#e5e6ff"/>
<rect x="447.19" y="272.00" width="5.98" height="5.98" fill="#ea6363"/>
<rect x="453.12" y="272.00" width="5.98" height="5.98" fill="#fcebeb"/>
<rect x="459.05" y="272.00" width="5.98" height="5.98" fill="#e5e6ff"/>
<rect x="370.10" y="277.93" width="5.98" height="5.98" fill="#fcebeb"/>
<rect x="376.03" y="277.93" width="5.98" height="5.98" fill="#dd0000"/>
<rect x="381.96" y="277.93" width="5.98" height="5.98" fill="#d9dbff"/>
<rect x="387.89" y="277.93" width="5.98" height="5.98" fill="#fcebeb"/>
<rect x="393.82" y="277.93" width="5.98" height="5.98" fill="#fbdede"/>
<rect x="399.75" y="277.93" width="5.98" height="5.98" fill="#f7c1c1"/>
<rect x="405.68" y="277.93" width="5.98" height="5.98" fill="#fef6f6"/>
<rect x="411.61" y="277.93" width="5.98" height="5.98" fill="#f7c1c1"/>
<rect x="417.54" y="277.93" width="5.98" height="5.98" fill="#ccceff"/>
<rect x="423.47" y="277.93" width="5.98" height="5.98" fill="#f29d9d"/>
<rect x="429.40" y="277.93" width="5.98" height="5.98" fill="#9fa3ff"/>
<rect x="435.33" y="277.93" width="5.98" height="5.98" fill="#f8f8ff"/>
<rect x="441.26" y="277.93" width="5.98" height="5.98" fill="#f9d0d0"/>
<rect x="447.19" y="277.93" width="5.98" height="5.98" fill="#f9d0d0"/>
<rect x="453.12" y="277.93" width="5.98" height="5.98" fill="#ccceff"/>
<rect x="459.05" y="277.93" width="5.98" height="5.98" fill="#f4b0b0"/>
<rect x="370.10" y="283.86" width="5.98" height="5.98" fill="#bdc0ff"/>
<rect x="376.03" y="283.86" width="5.98" height="5.98" fill="#d9dbff"/>
<rect x="381.96" y="283.86" width="5.98" height="5.98" fill="#dd0000"/>
<rect x="387.89" y="283.86" width="5.98" height="5.98" fill="#fdf0f0"/>
<rect x="393.82" y="283.86" width="5.98" height="5.98" fill="#ea6363"/>
<rect x="399.75" y="283.86" width="5.98" height="5.98" fill="#f8c9c9"/>
<rect x="405.68" y="283.86" width="5.98" height="5.98" fill="#fbdede"/>
<rect x="411.61" y="283.86" width="5.98" height="5.98" fill="#f7c1c1"/>
<rect x="417.54" y="283.86" width="5.98" height="5.98" fill="#bdc0ff"/>
<rect x="423.47" y="283.86" width="5.98" height="5.98" fill="#fcebeb"/>
<rect x="429.40" y="283.86" width="5.98" height="5.98" fill="#e85555"/>
<rect x="435.33" y="283.86" width="5.98" height="5.98" fill="#fbdede"/>
<rect x="441.26" y="283.86" width="5.98" height="5.98" fill="#ec7171"/>
<rect x="447.19" y="283.86" width="5.98" height="5.98" fill="#e5e6ff"/>
<rect x="453.12" y="283.86" width="5.98" height="5.98" fill="#f7c1c1"/>
<rect x="459.05" y="283.86" width="5.98" height="5.98" fill="#f9d0d0"/>
<rect x="370.10" y="289.79" width="5.98" height="5.98" fill="#fdf0f0"/>
<rect x="376.03" y="289.79" width="5.98" height="5.98" fill="#fcebeb"/>
<rect x="381.96" y="289.79" width="5.98" height="5.98" fill="#fdf0f0"/>
<rect x="387.89" y="289.79" width="5.98" height="5.98" fill="#dd0000"/>
<rect x="399.75" y="289.79" width="5.98" height="5.98" fill="#f29d9d"/>
<rect x="405.68" y="289.79" width="5.98" height="5.98" fill="#6c73ff"/>
<rect x="411.61" y="289.79" width="5.98" height="5.98" fill="#f29d9d"/>
<rect x="417.54" y="289.79" width="5.98" height="5.98" fill="#f7c1c1"/>
<rect x="423.47" y="289.79" width="5.98" height="5.98" fill="#fbdede"/>
<rect x="429.40" y="289.79" width="5.98" height="5.98" fill="#bdc0ff"/>
<rect x="435.33" y="289.79" width="5.98" height="5.98" fill="#e11c1c"/>
<rect x="441.26" y="289.79" width="5.98" height="5.98" fill="#adb0ff"/>
<rect x="447.19" y="289.79" width="5.98" height="5.98" fill="#f9d0d0"/>
<rect x="453.12" y="289.79" width="5.98" height="5.98" fill="#ccceff"/>
<rect x="459.05" y="289.79" width="5.98" height="5.98" fill="#f29d9d"/>
<rect x="370.10" y="295.72" width="5.98" height="5.98" fill="#eaebff"/>
<rect x="376.03" y="295.72" width="5.98" height="5.98" fill="#fbdede"/>
<rect x="381.96" y="295.72" width="5.98" height="5.98" fill="#ea6363"/>
<rect x="393.82" y="295.72" width="5.98" height="5.98" fill="#dd0000"/>
<rect x="399.75" y="295.72" width="5.98" height="5.98" fill="#f4b0b0"/>
<rect x="405.68" y="295.72" width="5.98" height="5.98" fill="#ec7171"/>
<rect x="411.61" y="295.72" width="5.98" height="5.98" fill="#ec7171"/>
<rect x="417.54" y="295.72" width="5.98" height="5.98" fill="#e5e6ff"/>
<rect x="423.47" y="295.72" width="5.98" height="5.98" fill="#fbdede"/>
<rect x="429.40" y="295.72" width="5.98" height="5.98" fill="#f08e8e"/>
<rect x="435.33" y="295.72" width="5.98" height="5.98" fill="#fbdede"/>
<rect x="441.26" y="295.72" width="5.98" height="5.98" fill="#e32a2a"/>
<rect x="447.19" y="295.72" width="5.98" height="5.98" fill="#fcebeb"/>
<rect x="453.12" y="295.72" width="5.98" height="5.98" fill="#ea6363"/>
<rect x="459.05" y="295.72" width="5.98" height="5.98" fill="#ec7171"/>
<rect x="370.10" y="301.65" width="5.98" height="5.98" fill="#f29d9d"/>
<rect x="376.03" y="301.65" width="5.98" height="5.98" fill="#f7c1c1"/>
<rect x="381.96" y="301.65" width="5.98" height="5.98" fill="#f8c9c9"/>
<rect x="387.89" y="301.65" width="5.98" height="5.98" fill="#f29d9d"/>
<rect x="393.82" y="301.65" width="5.98" height="5.98" fill="#f4b0b0"/>
<rect x="399.75" y="301.65" width="5.98" height="5.98" fill="#dd0000"/>
<rect x="411.61" y="301.65" width="5.98" height="5.98" fill="#f29d9d"/>
<rect x="417.54" y="301.65" width="5.98" height="5.98" fill="#f7c1c1"/>
<rect x="423.47" y="301.65" width="5.98" height="5.98" fill="#fcebeb"/>
<rect x="429.40" y="301.65" width="5.98" height="5.98" fill="#f9d0d0"/>
<rect x="435.33" y="301.65" width="5.98" height="5.98" fill="#ec7171"/>
<rect x="441.26" y="301.65" width="5.98" height="5.98" fill="#f29d9d"/>
<rect x="447.19" y="301.65" width="5.98" height="5.98" fill="#ea6363"/>
<rect x="453.12" y="301.65" width="5.98" height="5.98" fill="#f9d0d0"/>
<rect x="459.05" y="301.65" width="5.98" height="5.98" fill="#ec7171"/>
<rect x="370.10" y="307.58" width="5.98" height="5.98" fill="#f7c1c1"/>
<rect x="376.03" y="307.58" width="5.98" height="5.98" fill="#fef6f6"/>
<rect x="381.96" y="307.58" width="5.98" height="5.98" fill="#fbdede"/>
<rect x="387.89" y="307.58" width="5.98" height="5.98" fill="#6c73ff"/>
<rect x="393.82" y="307.58" width="5.98" height="5.98" fill="#ec7171"/>
<rect x="405.68" y="307.58" width="5.98" height="5.98" fill="#dd0000"/>
<rect x="411.61" y="307.58" width="5.98" height="5.98" fill="#fbdede"/>
<rect x="417.54" y="307.58" width="5.98" height="5.98" fill="#fcebeb"/>
<rect x="423.47" y="307.58" width="5.98" height="5.98" fill="#eff0ff"/>
<rect x="429.40" y="307.58" width="5.98" height="5.98" fill="#f7c1c1"/>
<rect x="435.33" y="307.58" width="5.98" height="5.98" fill="#6c73ff"/>
<rect x="441.26" y="307.58" width="5.98" height="5.98" fill="#ea6363"/>
<rect x="447.19" y="307.58" width="5.98" height="5.98" fill="#f9d0d0"/>
<rect x="453.12" y="307.58" width="5.98" height="5.98" fill="#ea6363"/>
<rect x="370.10" y="313.51" width="5.98" height="5.98" fill="#eff0ff"/>
<rect x="376.03" y="313.51" width="5.98" height="5.98" fill="#f7c1c1"/>
<rect x="381.96" y="313.51" width="5.98" height="5.98" fill="#f7c1c1"/>
<rect x="387.89" y="313.51" width="5.98" height="5.98" fill="#f29d9d"/>
<rect x="393.82" y="313.51" width="5.98" height="5.98" fill="#ec7171"/>
<rect x="399.75" y="313.51" width="5.98" height="5.98" fill="#f29d9d"/>
<rect x="405.68" y="313.51" width="5.98" height="5.98" fill="#fbdede"/>
<rect x="411.61" y="313.51" width="5.98" height="5.98" fill="#dd0000"/>
<rect x="417.54" y="313.51" width="5.98" height="5.98" fill="#d9dbff"/>
<rect x="423.47" y="313.51" width="5.98" height="5.98" fill="#fcebeb"/>
<rect x="429.40" y="313.51" width="5.98" height="5.98" fill="#fcebeb"/>
<rect x="435.33" y="313.51" width="5.98" height="5.98" fill="#ea6363"/>
<rect x="441.26" y="313.51" width="5.98" height="5.98" fill="#f29d9d"/>
<rect x="447.19" y="313.51" width="5.98" height="5.98" fill="#fcebeb"/>
<rect x="453.12" y="313.51" width="5.98" height="5.98" fill="#ec7171"/>
<rect x="459.05" y="313.51" width="5.98" height="5.98" fill="#e32a2a"/>
<rect x="370.10" y="319.44" width="5.98" height="5.98" fill="#e53939"/>
<rect x="376.03" y="319.44" width="5.98" height="5.98" fill="#ccceff"/>
<rect x="381.96" y="319.44" width="5.98" height="5.98" fill="#bdc0ff"/>
<rect x="387.89" y="319.44" width="5.98" height="5.98" fill="#f7c1c1"/>
<rect x="393.82" y="319.44" width="5.98" height="5.98" fill="#e5e6ff"/>
<rect x="399.75" y="319.44" width="5.98" height="5.98" fill="#f7c1c1"/>
<rect x="405.68" y="319.44" width="5.98" height="5.98" fill="#fcebeb"/>
<rect x="411.61" y="319.44" width="5.98" height="5.98" fill="#d9dbff"/>
<rect x="417.54" y="319.44" width="5.98" height="5.98" fill="#dd0000"/>
<rect x="423.47" y="319.44" width="5.98" height="5.98" fill="#bdc0ff"/>
<rect x="429.40" y="319.44" width="5.98" height="5.98" fill="#d9dbff"/>
<rect x="435.33" y="319.44" width="5.98" height="5.98" fill="#f9d0d0"/>
<rect x="441.26" y="319.44" width="5.98" height="5.98" fill="#ccceff"/>
<rect x="447.19" y="319.44" width="5.98" height="5.98" fill="#ea6363"/>
<rect x="453.12" y="319.44" width="5.98" height="5.98" fill="#fef6f6"/>
<rect x="459.05" y="319.44" width="5.98" height="5.98" fill="#ccceff"/>
<rect x="370.10" y="325.37" width="5.98" height="5.98" fill="#eff0ff"/>
<rect x="376.03" y="325.37" width="5.98" height="5.98" fill="#f29d9d"/>
<rect x="381.96" y="325.37" width="5.98" height="5.98" fill="#fcebeb"/>
<rect x="387.89" y="325.37" width="5.98" height="5.98" fill="#fbdede"/>
<rect x="393.82" y="325.37" width="5.98" height="5.98" fill="#fbdede"/>
<rect x="399.75" y="325.37" width="5.98" height="5.98" fill="#fcebeb"/>
<rect x="405.68" y="325.37" width="5.98" height="5.98" fill="#eff0ff"/>
<rect x="411.61" y="325.37" width="5.98" height="5.98" fill="#fcebeb"/>
<rect x="417.54" y="325.37" width="5.98" height="5.98" fill="#bdc0ff"/>
<rect x="423.47" y="325.37" width="5.98" height="5.98" fill="#dd0000"/>
<rect x="429.40" y="325.37" width="5.98" height="5.98" fill="#fef6f6"/>
<rect x="435.33" y="325.37" width="5.98" height="5.98" fill="#fef6f6"/>
<rect x="441.26" y="325.37" width="5.98" height="5.98" fill="#fcebeb"/>
<rect x="447.19" y="325.37" width="5.98" height="5.98" fill="#ccceff"/>
<rect x="453.12" y="325.37" width="5.98" height="5.98" fill="#f8f8ff"/>
<rect x="370.10" y="331.30" width="5.98" height="5.98" fill="#e5e6ff"/>
<rect x="376.03" y="331.30" width="5.98" height="5.98" fill="#9fa3ff"/>
<rect x="381.96" y="331.30" width="5.98" height="5.98" fill="#e85555"/>
<rect x="387.89" y="331.30" width="5.98" height="5.98" fill="#bdc0ff"/>
<rect x="393.82" y="331.30" width="5.98" height="5.98" fill="#f08e8e"/>
<rect x="399.75" y="331.30" width="5.98" height="5.98" fill="#f9d0d0"/>
<rect x="405.68" y="331.30" width="5.98" height="5.98" fill="#f7c1c1"/>
<rect x="411.61" y="331.30" width="5.98" height="5.98" fill="#fcebeb"/>
<rect x="417.54" y="331.30" width="5.98" height="5.98" fill="#d9dbff"/>
<rect x="423.47" y="331.30" width="5.98" height="5.98" fill="#fef6f6"/>
<rect x="429.40" y="331.30" width="5.98" height="5.98" fill="#dd0000"/>
<rect x="435.33" y="331.30" width="5.98" height="5.98" fill="#f8f8ff"/>
<rect x="441.26" y="331.30" width="5.98" height="5.98" fill="#ec7171"/>
<rect x="447.19" y="331.30" width="5.98" height="5.98" fill="#fef6f6"/>
<rect x="453.12" y="331.30" width="5.98" height="5.98" fill="#ec7171"/>
<rect x="459.05" y="331.30" width="5.98" height="5.98" fill="#fcebeb"/>
<rect x="370.10" y="337.23" width="5.98" height="5.98" fill="#fef6f6"/>
<rect x="376.03" y="337.23" width="5.98" height="5.98" fill="#f8f8ff"/>
<rect x="381.96" y="337.23" width="5.98" height="5.98" fill="#fbdede"/>
<rect x="387.89" y="337.23" width="5.98" height="5.98" fill="#e11c1c"/>
<rect x="393.82" y="337.23" width="5.98" height="5.98" fill="#fbdede"/>
<rect x="399.75" y="337.23" width="5.98" height="5.98" fill="#ec7171"/>
<rect x="405.68" y="337.23" width="5.98" height="5.98" fill="#6c73ff"/>
<rect x="411.61" y="337.23" width="5.98" height="5.98" fill="#ea6363"/>
<rect x="417.54" y="337.23" width="5.98" height="5.98" fill="#f9d0d0"/>
<rect x="423.47" y="337.23" width="5.98" height="5.98" fill="#fef6f6"/>
<rect x="429.40" y="337.23" width="5.98" height="5.98" fill="#f8f8ff"/>
<rect x="435.33" y="337.23" width="5.98" height="5.98" fill="#dd0000"/>
<rect x="441.26" y="337.23" width="5.98" height="5.98" fill="#eff0ff"/>
<rect x="447.19" y="337.23" width="5.98" height="5.98" fill="#f9d0d0"/>
<rect x="453.12" y="337.23" width="5.98" height="5.98" fill="#fcebeb"/>
<rect x="459.05" y="337.23" width="5.98" height="5.98" fill="#ec7171"/>
<rect x="370.10" y="343.16" width="5.98" height="5.98" fill="#e5e6ff"/>
<rect x="376.03" y="343.16" width="5.98" height="5.98" fill="#f9d0d0"/>
<rect x="381.96" y="343.16" width="5.98" height="5.98" fill="#ec7171"/>
<rect x="387.89" y="343.16" width="5.98" height="5.98" fill="#adb0ff"/>
<rect x="393.82" y="343.16" width="5.98" height="5.98" fill="#e32a2a"/>
<rect x="399.75" y="343.16" width="5.98" height="5.98" fill="#f29d9d"/>
<rect x="405.68" y="343.16" width="5.98" height="5.98" fill="#ea6363"/>
<rect x="411.61" y="343.16" width="5.98" height="5.98" fill="#f29d9d"/>
<rect x="417.54" y="343.16" width="5.98" height="5.98" fill="#ccceff"/>
<rect x="423.47" y="343.16" width="5.98" height="5.98" fill="#fcebeb"/>
<rect x="429.40" y="343.16" width="5.98" height="5.98" fill="#ec7171"/>
<rect x="435.33" y="343.16" width="5.98" height="5.98" fill="#eff0ff"/>
<rect x="441.26" y="343.16" width="5.98" height="5.98" fill="#dd0000"/>
<rect x="447.19" y="343.16" width="5.98" height="5.98" fill="#f7c1c1"/>
<rect x="453.12" y="343.16" width="5.98" height="5.98" fill="#ec7171"/>
<rect x="459.05" y="343.16" width="5.98" height="5.98" fill="#f08e8e"/>
<rect x="370.10" y="349.09" width="5.98" height="5.98" fill="#ea6363"/>
<rect x="376.03" y="349.09" width="5.98" height="5.98" fill="#f9d0d0"/>
<rect x="381.96" y="349.09" width="5.98" height="5.98" fill="#e5e6ff"/>
<rect x="387.89" y="349.09" width="5.98" height="5.98" fill="#f9d0d0"/>
<rect x="393.82" y="349.09" width="5.98" height="5.98" fill="#fcebeb"/>
<rect x="399.75" y="349.09" width="5.98" height="5.98" fill="#ea6363"/>
<rect x="405.68" y="349.09" width="5.98" height="5.98" fill="#f9d0d0"/>
<rect x="411.61" y="349.09" width="5.98" height="5.98" fill="#fcebeb"/>
<rect x="417.54" y="349.09" width="5.98" height="5.98" fill="#ea6363"/>
<rect x="423.47" y="349.09" width="5.98" height="5.98" fill="#ccceff"/>
<rect x="429.40" y="349.09" width="5.98" height="5.98" fill="#fef6f6"/>
<rect x="435.33" y="349.09" width="5.98" height="5.98" fill="#f9d0d0"/>
<rect x="441.26" y="349.09" width="5.98" height="5.98" fill="#f7c1c1"/>
<rect x="447.19" y="349.09" width="5.98" height="5.98" fill="#dd0000"/>
<rect x="453.12" y="349.09" width="5.98" height="5.98" fill="#fefbfb"/>
<rect x="459.05" y="349.09" width="5.98" height="5.98" fill="#f8c9c9"/>
<rect x="370.10" y="355.02" width="5.98" height="5.98" fill="#fcebeb"/>
<rect x="376.03" y="355.02" width="5.98" height="5.98" fill="#ccceff"/>
<rect x="381.96" y="355.02" width="5.98" height="5.98" fill="#f7c1c1"/>
<rect x="387.89" y="355.02" width="5.98" height="5.98" fill="#ccceff"/>
<rect x="393.82" y="355.02" width="5.98" height="5.98" fill="#ea6363"/>
<rect x="399.75" y="355.02" width="5.98" height="5.98" fill="#f9d0d0"/>
<rect x="405.68" y="355.02" width="5.98" height="5.98" fill="#ea6363"/>
<rect x="411.61" y="355.02" width="5.98" height="5.98" fill="#ec7171"/>
<rect x="417.54" y="355.02" width="5.98" height="5.98" fill="#fef6f6"/>
<rect x="423.47" y="355.02" width="5.98" height="5.98" fill="#f8f8ff"/>
<rect x="429.40" y="355.02" width="5.98" height="5.98" fill="#ec7171"/>
<rect x="435.33" y="355.02" width="5.98" height="5.98" fill="#fcebeb"/>
<rect x="441.26" y="355.02" width="5.98" height="5.98" fill="#ec7171"/>
<rect x="447.19" y="355.02" width="5.98" height="5.98" fill="#fefbfb"/>
<rect x="453.12" y="355.02" width="5.98" height="5.98" fill="#dd0000"/>
<rect x="459.05" y="355.02" width="5.98" height="5.98" fill="#f4b0b0"/>
<rect x="370.10" y="360.95" width="5.98" height="5.98" fill="#e5e6ff"/>
<rect x="376.03" y="360.95" width="5.98" height="5.98" fill="#f4b0b0"/>
<rect x="381.96" y="360.95" width="5.98" height="5.98" fill="#f9d0d0"/>
<rect x="387.89" y="360.95" width="5.98" height="5.98" fill="#f29d9d"/>
<rect x="393.82" y="360.95" width="5.98" height="5.98" fill="#ec7171"/>
<rect x="399.75" y="360.95" width="5.98" height="5.98" fill="#ec7171"/>
<rect x="411.61" y="360.95" width="5.98" height="5.98" fill="#e32a2a"/>
<rect x="417.54" y="360.95" width="5.98" height="5.98" fill="#ccceff"/>
<rect x="429.40" y="360.95" width="5.98" height="5.98" fill="#fcebeb"/>
<rect x="435.33" y="360.95" width="5.98" height="5.98" fill="#ec7171"/>
<rect x="441.26" y="360.95" width="5.98" height="5.98" fill="#f08e8e"/>
<rect x="447.19" y="360.95" width="5.98" height="5.98" fill="#f8c9c9"/>
<rect x="453.12" y="360.95" width="5.98" height="5.98" fill="#f4b0b0"/>
<rect x="459.05" y="360.95" width="5.98" height="5.98" fill="#dd0000"/>
<text x="393.8" y="231.5" font-size="6.70" text-anchor="middle" stroke="#1a1a1a" stroke-width="0.05">Tcon</text>
<text x="442.8" y="231.5" font-size="6.70" text-anchor="middle" stroke="#1a1a1a" stroke-width="0.05">Treg</text>
<line x1="371.8" x2="416.1" y1="236.5" y2="236.5" stroke="#5a5a5a" stroke-width="1.7"/>
<line x1="421.8" x2="463.6" y1="236.5" y2="236.5" stroke="#5a5a5a" stroke-width="1.7"/>
<text transform="translate(374.54 268.20) rotate(-90) scale(1 1.2)" font-size="4.35" fill="#3a3a3a" stroke="#3a3a3a" stroke-width="0.08">pSTAT1/ UT</text>
<text transform="translate(380.47 268.20) rotate(-90) scale(1 1.2)" font-size="4.35" fill="#3a3a3a" stroke="#3a3a3a" stroke-width="0.08">pSTAT3/ UT</text>
<text transform="translate(386.40 268.20) rotate(-90) scale(1 1.2)" font-size="4.35" fill="#3a3a3a" stroke="#3a3a3a" stroke-width="0.08">pSTAT1/ IL6</text>
<text transform="translate(392.33 268.20) rotate(-90) scale(1 1.2)" font-size="4.35" fill="#3a3a3a" stroke="#3a3a3a" stroke-width="0.08">pSTAT3/ IL6</text>
<text transform="translate(398.26 268.20) rotate(-90) scale(1 1.2)" font-size="4.35" fill="#3a3a3a" stroke="#3a3a3a" stroke-width="0.08">pSTAT1/ IFNα</text>
<text transform="translate(404.19 268.20) rotate(-90) scale(1 1.2)" font-size="4.35" fill="#3a3a3a" stroke="#3a3a3a" stroke-width="0.08">pSTAT5/ UT</text>
<text transform="translate(410.12 268.20) rotate(-90) scale(1 1.2)" font-size="4.35" fill="#3a3a3a" stroke="#3a3a3a" stroke-width="0.08">pSTAT5/ IL2</text>
<text transform="translate(416.05 268.20) rotate(-90) scale(1 1.2)" font-size="4.35" fill="#3a3a3a" stroke="#3a3a3a" stroke-width="0.08">pSTAT5/ IFNα</text>
<text transform="translate(421.98 268.20) rotate(-90) scale(1 1.2)" font-size="4.35" fill="#3a3a3a" stroke="#3a3a3a" stroke-width="0.08">pSTAT1/ UT</text>
<text transform="translate(427.91 268.20) rotate(-90) scale(1 1.2)" font-size="4.35" fill="#3a3a3a" stroke="#3a3a3a" stroke-width="0.08">pSTAT3/ UT</text>
<text transform="translate(433.84 268.20) rotate(-90) scale(1 1.2)" font-size="4.35" fill="#3a3a3a" stroke="#3a3a3a" stroke-width="0.08">pSTAT1/ IL6</text>
<text transform="translate(439.77 268.20) rotate(-90) scale(1 1.2)" font-size="4.35" fill="#3a3a3a" stroke="#3a3a3a" stroke-width="0.08">pSTAT3/ IL6</text>
<text transform="translate(445.70 268.20) rotate(-90) scale(1 1.2)" font-size="4.35" fill="#3a3a3a" stroke="#3a3a3a" stroke-width="0.08">pSTAT1/ IFNα</text>
<text transform="translate(451.63 268.20) rotate(-90) scale(1 1.2)" font-size="4.35" fill="#3a3a3a" stroke="#3a3a3a" stroke-width="0.08">pSTAT5/ UT</text>
<text transform="translate(457.56 268.20) rotate(-90) scale(1 1.2)" font-size="4.35" fill="#3a3a3a" stroke="#3a3a3a" stroke-width="0.08">pSTAT5/ IL2</text>
<text transform="translate(463.49 268.20) rotate(-90) scale(1 1.2)" font-size="4.35" fill="#3a3a3a" stroke="#3a3a3a" stroke-width="0.08">pSTAT5/ IFNα</text>
<text x="468.40" y="276.60" font-size="4.55" fill="#444" stroke="#444" stroke-width="0.08">pSTAT1/ UT</text>
<text x="468.40" y="282.53" font-size="4.55" fill="#444" stroke="#444" stroke-width="0.08">pSTAT3/ UT</text>
<text x="468.40" y="288.46" font-size="4.55" fill="#444" stroke="#444" stroke-width="0.08">pSTAT1/ IL6</text>
<text x="468.40" y="294.39" font-size="4.55" fill="#444" stroke="#444" stroke-width="0.08">pSTAT3/ IL6</text>
<text x="468.40" y="300.32" font-size="4.55" fill="#444" stroke="#444" stroke-width="0.08">pSTAT1/ IFNα</text>
<text x="468.40" y="306.25" font-size="4.55" fill="#444" stroke="#444" stroke-width="0.08">pSTAT5/ UT</text>
<text x="468.40" y="312.18" font-size="4.55" fill="#444" stroke="#444" stroke-width="0.08">pSTAT5/ IL2</text>
<text x="468.40" y="318.11" font-size="4.55" fill="#444" stroke="#444" stroke-width="0.08">pSTAT5/ IFNα</text>
<text x="468.40" y="324.04" font-size="4.55" fill="#444" stroke="#444" stroke-width="0.08">pSTAT1/ UT</text>
<text x="468.40" y="329.97" font-size="4.55" fill="#444" stroke="#444" stroke-width="0.08">pSTAT3/ UT</text>
<text x="468.40" y="335.90" font-size="4.55" fill="#444" stroke="#444" stroke-width="0.08">pSTAT1/ IL6</text>
<text x="468.40" y="341.83" font-size="4.55" fill="#444" stroke="#444" stroke-width="0.08">pSTAT3/ IL6</text>
<text x="468.40" y="347.76" font-size="4.55" fill="#444" stroke="#444" stroke-width="0.08">pSTAT1/ IFNα</text>
<text x="468.40" y="353.69" font-size="4.55" fill="#444" stroke="#444" stroke-width="0.08">pSTAT5/ UT</text>
<text x="468.40" y="359.62" font-size="4.55" fill="#444" stroke="#444" stroke-width="0.08">pSTAT5/ IL2</text>
<text x="468.40" y="365.55" font-size="4.55" fill="#444" stroke="#444" stroke-width="0.08">pSTAT5/ IFNα</text>
<line x1="500.6" x2="500.6" y1="270.4" y2="314.1" stroke="#333" stroke-width="1.1"/>
<line x1="500.6" x2="500.6" y1="319.0" y2="363.3" stroke="#333" stroke-width="1.1"/>
<text transform="translate(506.20 292.60) rotate(90)" font-size="6.80" text-anchor="middle" stroke="#1a1a1a" stroke-width="0.1">Tcon</text>
<text transform="translate(506.20 341.20) rotate(90)" font-size="6.80" text-anchor="middle" stroke="#1a1a1a" stroke-width="0.1">Treg</text>
<text transform="translate(366.70 319.50) rotate(-90)" font-size="6.80" text-anchor="middle" stroke="#1a1a1a" stroke-width="0.05">Cy6</text>
<defs><linearGradient id="cb" x1="0" x2="1" y1="0" y2="0"><stop offset="0" stop-color="#1010f0"/><stop offset="0.5" stop-color="#ffffff"/><stop offset="1" stop-color="#e80000"/></linearGradient></defs>
<rect x="429.6" y="196.4" width="70.7" height="3.4" fill="url(#cb)" stroke="#000" stroke-width="1"/>
<text x="465" y="191.4" font-size="6.6" text-anchor="middle">Spearman r</text>
<text x="429.3" y="207.7" font-size="4.8" text-anchor="middle" fill="#333" stroke="#333" stroke-width="0.1">-1.00</text>
<text x="465.1" y="207.7" font-size="4.8" text-anchor="middle" fill="#333" stroke="#333" stroke-width="0.1">0.00</text>
<text x="500.6" y="207.7" font-size="4.8" text-anchor="middle" fill="#333" stroke="#333" stroke-width="0.1">1.00</text>
<rect x="0" y="0" width="520" height="1.05" fill="#000"/>
<rect x="0" y="0" width="1.05" height="374" fill="#000"/>
<rect x="518.7" y="0" width="1.3" height="374" fill="#000"/>
<rect x="0" y="372.7" width="520" height="1.3" fill="#000"/>
</svg>
</body></html>
